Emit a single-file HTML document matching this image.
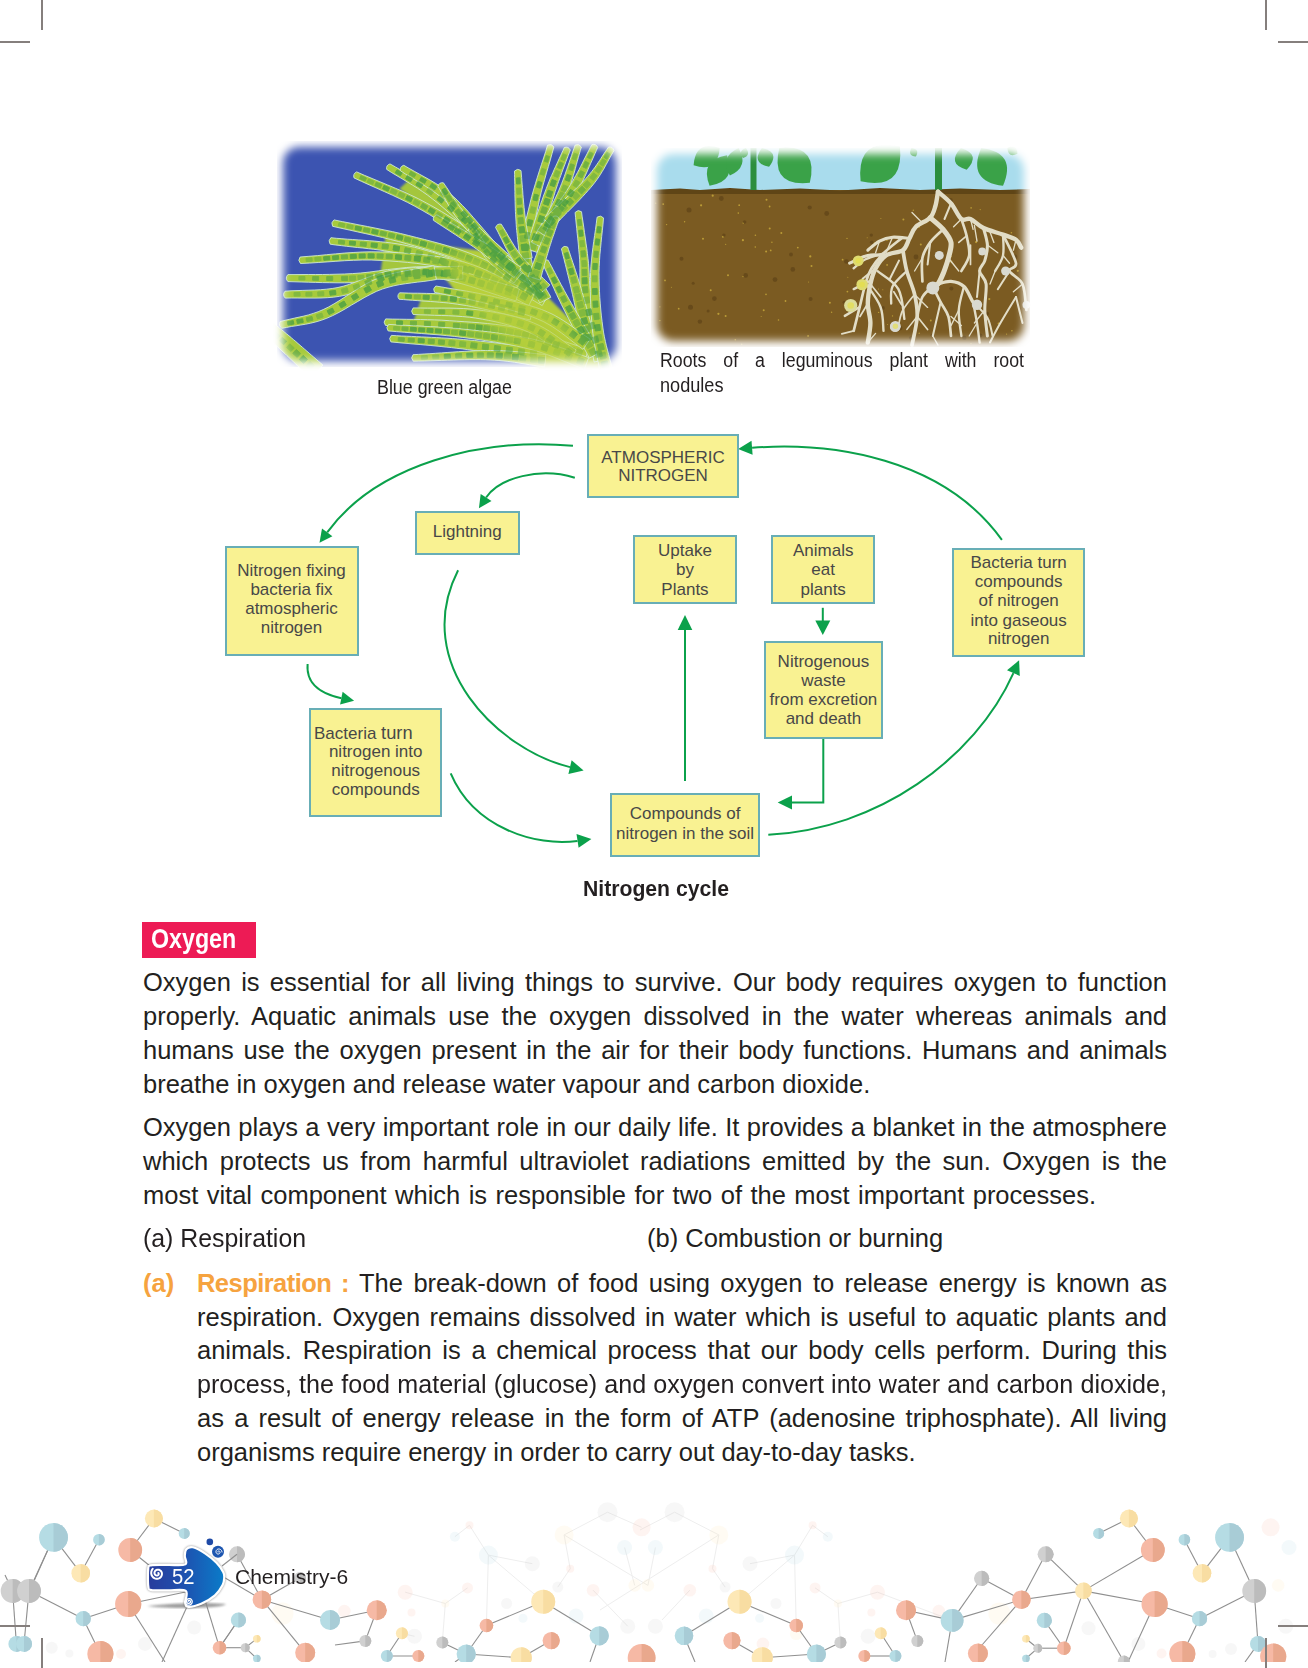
<!DOCTYPE html><html><head><meta charset="utf-8"><title>Chemistry-6 page 52</title><style>
*{margin:0;padding:0;box-sizing:border-box}
html,body{width:1308px;height:1668px;background:#fff;overflow:hidden}
body{position:relative;font-family:"Liberation Sans",sans-serif;color:#231f20}
.t{position:absolute;white-space:normal}
.crop{position:absolute;background:#857f7d;z-index:10}
.box{position:absolute;background:#f9f292;border:2px solid #68aeb6}
.bt{position:absolute;left:-2px;width:calc(100% + 4px);text-align:center;font-size:17px;line-height:19px;color:#484848;white-space:pre}
svg{position:absolute;left:0;top:0}
</style></head><body>
<div class="crop" style="left:41px;top:0px;width:2px;height:30px"></div>
<div class="crop" style="left:0px;top:41px;width:30px;height:2px"></div>
<div class="crop" style="left:1265px;top:0px;width:2px;height:30px"></div>
<div class="crop" style="left:1278px;top:41px;width:30px;height:2px"></div>
<div class="crop" style="left:0px;top:1625px;width:30px;height:2px"></div>
<div class="crop" style="left:41px;top:1638px;width:2px;height:30px"></div>
<div class="crop" style="left:1278px;top:1625px;width:30px;height:2px"></div>
<div class="crop" style="left:1265px;top:1638px;width:2px;height:30px"></div>
<svg width="1308" height="1668" viewBox="0 0 1308 1668">
<defs>
<filter id="mblur" x="-20%" y="-20%" width="140%" height="140%"><feGaussianBlur stdDeviation="4"/></filter>
<mask id="ca" maskUnits="userSpaceOnUse" x="260" y="125" width="380" height="260"><rect x="283" y="147" width="333" height="214" rx="16" fill="#fff" filter="url(#mblur)"/></mask>
<mask id="cr" maskUnits="userSpaceOnUse" x="635" y="130" width="410" height="235"><rect x="657" y="154" width="367" height="187" rx="16" fill="#fff" filter="url(#mblur)"/></mask>
<filter id="blur8" x="-10%" y="-10%" width="120%" height="120%"><feGaussianBlur stdDeviation="5"/></filter>
<filter id="blur2"><feGaussianBlur stdDeviation="1"/></filter>
<linearGradient id="badge" x1="0" y1="0" x2="1" y2="0"><stop offset="0" stop-color="#283c9c"/><stop offset="0.45" stop-color="#1f4fae"/><stop offset="1" stop-color="#0a7cc9"/></linearGradient>
</defs>
<g mask="url(#ca)"><rect x="277" y="141" width="345" height="226" fill="#3c54b1"/>
<path d="M435.2,245.1 L479.2,250.6 L517.7,272.6 L545.3,294.6 L578.3,327.7 L600.3,355.2 L608.6,369.0 L539.7,369.0 L504.0,344.2 L462.7,300.2 L440.7,272.6Z" fill="#b3cd3a" filter="url(#blur2)"/>
<path d="M385.6,236.3 L407.6,241.0 L476.4,263.0 L517.7,289.1 L517.7,294.6 L435.2,272.6 L380.1,276.8Z" fill="#a4c63c" filter="url(#blur2)"/>
<path d="M399.4,188.7 L424.1,206.6 L490.2,250.6 L504.0,261.6 L495.7,250.6 L448.9,198.3 L413.1,176.3Z" fill="#a4c63c" filter="url(#blur2)"/>
<path d="M421.4,298.0 L462.7,300.2 L531.5,313.9 L572.8,344.2 L517.7,333.2 L448.9,324.9 L413.1,322.7Z" fill="#a4c63c" filter="url(#blur2)"/>
<path d="M354.0,177.9 L361.6,181.4 L369.3,184.9 L377.0,188.3 L384.6,191.7 L392.2,195.1 L399.8,198.7 L407.3,202.3 L414.7,206.2 L422.1,210.3 L429.5,214.6 L436.9,219.2 L444.3,224.0 L451.7,228.9 L459.0,233.9 L466.3,239.1 L473.4,244.3 L480.3,249.5 L487.0,254.7 L493.4,260.0 L499.6,265.4 L505.6,270.9 L511.6,276.4 L517.4,282.1 L523.2,287.7 L529.1,293.4 L535.0,299.1 L541.0,304.8 L549.5,295.5 L543.4,290.1 L537.4,284.6 L531.4,279.1 L525.4,273.6 L519.3,268.1 L513.1,262.6 L506.8,257.1 L500.2,251.7 L493.4,246.5 L486.4,241.3 L479.3,236.1 L471.9,231.0 L464.5,226.0 L456.9,221.1 L449.2,216.3 L441.6,211.6 L433.9,207.1 L426.2,202.9 L418.5,198.8 L410.8,195.1 L403.0,191.5 L395.3,188.2 L387.5,184.9 L379.8,181.7 L372.1,178.5 L364.4,175.3 L356.7,171.9 Q352.7,173.7 354.0,177.9Z" fill="#a7ca3c" stroke="#cde8d4" stroke-width="0.9"/>
<path d="M386.7,169.4 L391.8,172.7 L397.0,175.8 L402.1,178.8 L407.2,181.9 L412.2,184.9 L417.3,188.1 L422.4,191.5 L427.5,195.1 L432.6,199.0 L437.8,203.1 L442.9,207.4 L448.1,212.0 L453.3,216.7 L458.5,221.6 L463.9,226.7 L469.4,232.1 L475.2,237.6 L481.1,243.4 L487.2,249.4 L493.6,255.8 L500.1,262.5 L506.8,269.4 L513.6,276.4 L520.4,283.5 L527.3,290.6 L534.1,297.7 L540.8,304.6 L549.7,295.7 L542.8,289.0 L535.9,282.1 L528.9,275.2 L521.9,268.3 L514.9,261.4 L508.0,254.6 L501.3,248.0 L494.7,241.8 L488.3,235.8 L482.2,230.2 L476.3,224.7 L470.6,219.5 L465.0,214.5 L459.5,209.7 L454.1,205.0 L448.6,200.6 L443.2,196.3 L437.7,192.2 L432.2,188.3 L426.8,184.7 L421.4,181.5 L416.1,178.4 L410.9,175.5 L405.6,172.6 L400.4,169.8 L395.3,166.9 L390.0,163.9 Q385.9,165.1 386.7,169.4Z" fill="#a7ca3c" stroke="#cde8d4" stroke-width="0.9"/>
<path d="M400.4,170.8 L405.6,174.1 L410.8,177.3 L415.9,180.4 L421.1,183.5 L426.1,186.6 L431.2,189.9 L436.2,193.4 L441.2,197.2 L446.1,201.5 L451.0,206.3 L456.0,211.6 L461.0,217.2 L466.0,223.2 L471.0,229.4 L476.1,235.7 L481.3,242.0 L486.6,248.2 L491.9,254.2 L497.2,260.0 L502.6,265.6 L508.1,271.3 L513.5,276.9 L519.0,282.4 L524.5,288.0 L530.0,293.5 L535.4,299.0 L540.8,304.6 L549.7,295.7 L544.1,290.3 L538.4,284.9 L532.8,279.5 L527.2,274.1 L521.5,268.8 L516.0,263.4 L510.4,258.0 L504.9,252.5 L499.5,247.0 L494.2,241.4 L488.9,235.5 L483.7,229.4 L478.4,223.3 L473.1,217.2 L467.9,211.2 L462.5,205.5 L457.2,200.1 L451.7,195.1 L446.3,190.7 L440.9,186.8 L435.5,183.3 L430.1,180.1 L424.8,177.1 L419.5,174.2 L414.3,171.3 L409.1,168.4 L403.8,165.3 Q399.6,166.5 400.4,170.8Z" fill="#a7ca3c" stroke="#cde8d4" stroke-width="0.9"/>
<path d="M437.9,186.3 L439.4,188.7 L440.7,191.0 L442.0,193.3 L443.2,195.6 L444.5,197.9 L445.7,200.3 L447.1,202.6 L448.4,205.0 L449.9,207.5 L451.4,210.0 L453.1,212.5 L454.9,215.2 L456.9,217.9 L459.1,220.7 L461.4,223.5 L463.9,226.4 L466.6,229.4 L469.4,232.4 L472.3,235.5 L475.3,238.5 L478.3,241.7 L481.4,244.8 L484.5,247.9 L487.6,251.0 L490.7,254.1 L493.7,257.2 L496.7,260.3 L499.6,263.3 L508.4,254.4 L505.3,251.5 L502.1,248.6 L498.9,245.6 L495.6,242.6 L492.4,239.7 L489.1,236.7 L485.9,233.8 L482.8,230.8 L479.7,228.0 L476.8,225.1 L473.9,222.4 L471.2,219.7 L468.7,217.0 L466.3,214.5 L464.1,212.0 L462.1,209.7 L460.3,207.4 L458.5,205.1 L456.9,202.9 L455.4,200.6 L453.9,198.5 L452.4,196.3 L451.0,194.1 L449.5,191.9 L448.1,189.6 L446.6,187.4 L445.0,185.1 L443.4,182.8 Q439.1,182.1 437.9,186.3Z" fill="#a7ca3c" stroke="#cde8d4" stroke-width="0.9"/>
<path d="M332.6,226.3 L340.9,228.2 L349.2,230.0 L357.6,231.9 L365.9,233.7 L374.2,235.6 L382.4,237.5 L390.6,239.5 L398.6,241.5 L406.5,243.7 L414.4,245.9 L422.1,248.1 L429.7,250.3 L437.3,252.6 L444.7,255.0 L452.1,257.5 L459.5,260.2 L466.9,263.2 L474.3,266.4 L481.7,270.0 L489.2,273.9 L496.7,278.1 L504.2,282.5 L511.7,287.1 L519.3,291.8 L526.9,296.5 L534.5,301.1 L542.2,305.6 L548.4,294.7 L540.7,290.5 L533.0,286.1 L525.4,281.6 L517.6,277.1 L509.9,272.7 L502.1,268.4 L494.3,264.2 L486.4,260.4 L478.6,256.8 L470.7,253.6 L463.0,250.8 L455.3,248.2 L447.6,245.8 L439.9,243.6 L432.2,241.5 L424.5,239.5 L416.6,237.5 L408.7,235.5 L400.6,233.5 L392.4,231.6 L384.1,229.9 L375.8,228.2 L367.4,226.5 L359.0,224.9 L350.6,223.2 L342.3,221.6 L334.0,219.9 Q330.5,222.5 332.6,226.3Z" fill="#a7ca3c" stroke="#cde8d4" stroke-width="0.9"/>
<path d="M330.2,244.2 L335.7,245.0 L341.2,245.6 L346.6,246.3 L352.1,246.9 L357.5,247.5 L362.9,248.0 L368.4,248.7 L373.8,249.3 L379.2,250.0 L384.6,250.8 L390.1,251.7 L395.5,252.8 L401.0,253.9 L406.6,255.2 L412.1,256.7 L417.8,258.4 L423.5,260.2 L429.2,262.1 L435.0,264.1 L440.9,266.2 L446.7,268.4 L452.6,270.7 L458.5,272.9 L464.5,275.2 L470.4,277.5 L476.3,279.7 L482.3,281.9 L488.2,284.1 L492.2,272.2 L486.3,270.3 L480.4,268.4 L474.4,266.3 L468.4,264.3 L462.4,262.2 L456.4,260.1 L450.4,258.1 L444.4,256.1 L438.4,254.1 L432.4,252.2 L426.4,250.5 L420.5,248.8 L414.6,247.3 L408.7,246.0 L402.9,244.8 L397.1,243.8 L391.4,243.0 L385.8,242.3 L380.2,241.7 L374.6,241.1 L369.1,240.7 L363.7,240.3 L358.2,239.9 L352.7,239.5 L347.3,239.2 L341.9,238.7 L336.4,238.3 L330.9,237.7 Q327.7,240.6 330.2,244.2Z" fill="#a7ca3c" stroke="#cde8d4" stroke-width="0.9"/>
<path d="M300.5,263.5 L309.4,263.1 L318.2,262.5 L327.1,261.9 L335.9,261.3 L344.7,260.7 L353.5,260.3 L362.3,260.0 L371.1,260.0 L380.0,260.4 L389.0,260.9 L398.2,261.6 L407.5,262.4 L416.9,263.4 L426.1,264.7 L435.3,266.1 L444.2,267.8 L452.9,269.8 L461.2,272.2 L469.1,274.9 L476.8,278.0 L484.2,281.5 L491.6,285.4 L498.9,289.4 L506.2,293.5 L513.6,297.7 L521.1,301.8 L528.7,305.7 L534.3,294.6 L526.7,290.9 L519.3,287.1 L511.9,283.1 L504.4,279.2 L496.8,275.2 L489.0,271.5 L481.0,267.9 L472.8,264.8 L464.2,262.1 L455.3,259.9 L446.2,258.0 L436.9,256.4 L427.4,255.1 L417.9,254.1 L408.3,253.3 L398.8,252.7 L389.5,252.2 L380.3,251.9 L371.1,251.8 L362.1,252.0 L353.1,252.5 L344.2,253.1 L335.3,253.9 L326.5,254.7 L317.7,255.6 L308.9,256.3 L300.1,257.0 Q297.4,260.4 300.5,263.5Z" fill="#a7ca3c" stroke="#cde8d4" stroke-width="0.9"/>
<path d="M287.9,281.6 L295.0,281.8 L301.9,282.0 L308.7,282.2 L315.6,282.4 L322.6,282.6 L329.7,282.7 L337.0,282.8 L344.7,282.8 L352.8,282.6 L361.3,282.2 L370.2,281.4 L379.4,280.5 L388.6,279.5 L398.0,278.5 L407.3,277.8 L416.6,277.4 L425.7,277.4 L434.6,278.1 L443.4,279.4 L452.3,281.3 L461.2,283.6 L470.2,286.2 L479.2,289.1 L488.3,292.2 L497.5,295.2 L506.7,298.2 L516.0,300.9 L519.5,288.4 L510.4,285.9 L501.3,283.2 L492.1,280.4 L482.8,277.6 L473.5,274.8 L464.2,272.3 L454.7,270.1 L445.2,268.3 L435.7,267.2 L426.0,266.7 L416.3,266.8 L406.6,267.5 L397.0,268.5 L387.5,269.6 L378.2,270.9 L369.2,272.1 L360.6,273.0 L352.4,273.6 L344.5,274.0 L337.0,274.2 L329.7,274.4 L322.6,274.5 L315.7,274.5 L308.8,274.5 L302.0,274.5 L295.0,274.6 L287.9,274.6 Q284.7,278.1 287.9,281.6Z" fill="#a7ca3c" stroke="#cde8d4" stroke-width="0.9"/>
<path d="M285.3,298.1 L291.2,298.0 L297.1,298.0 L303.0,298.1 L309.0,298.1 L315.0,298.1 L321.0,298.0 L327.2,297.7 L333.3,297.2 L339.6,296.3 L345.9,295.1 L352.1,293.4 L358.2,291.5 L364.1,289.4 L370.1,287.3 L376.1,285.3 L382.2,283.5 L388.3,281.9 L394.7,280.8 L401.5,280.0 L408.6,279.6 L416.0,279.3 L423.6,279.2 L431.4,279.2 L439.3,279.2 L447.2,279.3 L455.1,279.2 L462.9,279.1 L462.5,266.1 L454.8,266.5 L447.1,266.7 L439.2,266.9 L431.3,267.0 L423.4,267.3 L415.5,267.6 L407.8,268.1 L400.3,268.9 L393.0,269.9 L385.9,271.4 L379.2,273.3 L372.8,275.5 L366.7,277.8 L360.7,280.1 L354.9,282.3 L349.3,284.4 L343.7,286.1 L338.0,287.5 L332.2,288.5 L326.4,289.2 L320.6,289.7 L314.7,290.0 L308.9,290.2 L302.9,290.4 L297.0,290.6 L291.0,290.8 L285.0,291.2 Q282.0,294.8 285.3,298.1Z" fill="#a7ca3c" stroke="#cde8d4" stroke-width="0.9"/>
<path d="M281.8,328.3 L286.6,327.4 L291.3,326.5 L296.0,325.8 L300.7,325.0 L305.6,324.2 L310.6,323.2 L315.8,321.9 L321.2,320.3 L326.9,318.2 L332.8,315.6 L339.0,312.4 L345.2,308.9 L351.5,305.1 L357.8,301.4 L364.1,297.7 L370.3,294.4 L376.3,291.4 L382.2,289.1 L388.0,287.3 L393.8,285.8 L399.7,284.6 L405.6,283.7 L411.6,282.9 L417.7,282.1 L423.9,281.4 L430.2,280.5 L436.4,279.5 L433.9,265.7 L427.9,267.0 L421.9,268.0 L415.9,269.0 L409.7,270.1 L403.5,271.2 L397.2,272.4 L390.9,274.0 L384.5,275.9 L378.0,278.2 L371.5,281.1 L365.0,284.5 L358.6,288.3 L352.3,292.3 L346.0,296.3 L340.0,300.2 L334.1,303.8 L328.5,307.0 L323.2,309.6 L318.2,311.7 L313.3,313.4 L308.5,314.9 L303.8,316.1 L299.2,317.1 L294.6,318.1 L289.9,319.2 L285.1,320.3 L280.2,321.5 Q277.9,325.6 281.8,328.3Z" fill="#a7ca3c" stroke="#cde8d4" stroke-width="0.9"/>
<path d="M385.5,325.4 L392.5,325.8 L399.5,326.1 L406.4,326.5 L413.3,326.8 L420.3,327.1 L427.2,327.5 L434.3,328.0 L441.4,328.5 L448.6,329.2 L456.0,329.9 L463.5,330.6 L471.0,331.3 L478.7,332.1 L486.3,333.0 L493.9,334.1 L501.6,335.3 L509.1,336.7 L516.6,338.3 L524.0,340.2 L531.5,342.4 L539.0,344.8 L546.5,347.4 L554.0,350.1 L561.6,352.9 L569.3,355.7 L576.9,358.5 L584.6,361.1 L588.5,349.3 L580.9,346.9 L573.2,344.4 L565.6,341.8 L557.9,339.2 L550.1,336.6 L542.4,334.2 L534.6,331.9 L526.7,329.8 L518.9,328.1 L511.0,326.6 L503.1,325.4 L495.2,324.3 L487.4,323.5 L479.6,322.8 L471.8,322.2 L464.2,321.7 L456.7,321.2 L449.2,320.7 L441.9,320.2 L434.7,319.9 L427.6,319.7 L420.5,319.5 L413.6,319.4 L406.6,319.3 L399.7,319.2 L392.7,319.1 L385.7,318.9 Q382.7,322.1 385.5,325.4Z" fill="#a7ca3c" stroke="#cde8d4" stroke-width="0.9"/>
<path d="M399.2,299.3 L403.7,299.6 L408.2,300.0 L412.7,300.3 L417.1,300.6 L421.6,300.9 L426.0,301.2 L430.5,301.5 L434.9,301.8 L439.4,302.2 L443.9,302.6 L448.4,303.0 L452.9,303.6 L457.4,304.2 L462.0,304.9 L466.7,305.6 L471.4,306.5 L476.2,307.5 L481.0,308.5 L485.8,309.5 L490.7,310.7 L495.6,311.8 L500.5,313.0 L505.5,314.2 L510.4,315.4 L515.4,316.6 L520.4,317.8 L525.3,318.9 L530.2,320.0 L532.7,307.8 L527.8,306.9 L522.9,306.0 L517.9,305.0 L512.9,304.0 L507.9,303.0 L502.9,302.0 L497.9,301.1 L492.9,300.1 L487.9,299.2 L482.9,298.3 L478.0,297.5 L473.0,296.7 L468.2,296.0 L463.3,295.4 L458.5,294.9 L453.8,294.5 L449.1,294.2 L444.5,294.0 L439.9,293.8 L435.4,293.6 L430.9,293.5 L426.4,293.4 L421.9,293.3 L417.4,293.2 L413.0,293.2 L408.5,293.1 L404.1,292.9 L399.6,292.8 Q396.4,295.8 399.2,299.3Z" fill="#a7ca3c" stroke="#cde8d4" stroke-width="0.9"/>
<path d="M390.9,341.9 L396.0,342.4 L401.0,342.9 L406.0,343.3 L411.0,343.8 L416.0,344.2 L420.9,344.6 L425.9,345.1 L430.9,345.5 L436.0,346.0 L441.1,346.5 L446.2,347.1 L451.5,347.6 L456.8,348.3 L462.2,348.9 L467.7,349.6 L473.3,350.4 L479.0,351.2 L484.8,352.1 L490.7,353.0 L496.6,353.9 L502.5,354.8 L508.5,355.7 L514.5,356.7 L520.5,357.7 L526.5,358.6 L532.5,359.6 L538.5,360.5 L544.4,361.4 L546.1,349.0 L540.2,348.3 L534.2,347.6 L528.2,346.9 L522.2,346.1 L516.1,345.4 L510.1,344.6 L504.0,343.9 L498.0,343.2 L492.1,342.5 L486.1,341.8 L480.3,341.2 L474.5,340.5 L468.8,340.0 L463.2,339.5 L457.7,339.0 L452.3,338.6 L447.0,338.2 L441.8,337.9 L436.6,337.6 L431.5,337.4 L426.5,337.1 L421.5,336.9 L416.5,336.7 L411.5,336.4 L406.5,336.2 L401.5,336.0 L396.4,335.7 L391.4,335.4 Q388.2,338.5 390.9,341.9Z" fill="#a7ca3c" stroke="#cde8d4" stroke-width="0.9"/>
<path d="M413.3,361.2 L418.8,361.1 L424.5,361.0 L430.2,360.8 L436.0,360.6 L441.8,360.4 L447.5,360.2 L453.2,360.1 L458.9,359.9 L464.5,359.8 L469.9,359.7 L475.2,359.7 L480.4,359.7 L485.4,359.8 L490.1,360.0 L494.6,360.2 L498.9,360.5 L503.1,360.9 L507.1,361.3 L510.9,361.8 L514.7,362.3 L518.4,362.9 L522.1,363.5 L525.7,364.1 L529.4,364.7 L533.1,365.3 L536.9,365.8 L540.7,366.4 L544.6,366.9 L545.9,354.5 L542.1,354.2 L538.3,353.9 L534.6,353.5 L530.9,353.1 L527.3,352.7 L523.5,352.4 L519.8,352.0 L516.0,351.6 L512.0,351.3 L508.0,351.0 L503.8,350.8 L499.5,350.6 L495.0,350.5 L490.3,350.5 L485.4,350.5 L480.3,350.6 L475.1,350.8 L469.7,351.1 L464.1,351.4 L458.5,351.7 L452.9,352.1 L447.1,352.5 L441.4,352.9 L435.6,353.3 L429.9,353.7 L424.2,354.0 L418.6,354.4 L413.0,354.7 Q410.2,358.1 413.3,361.2Z" fill="#a7ca3c" stroke="#cde8d4" stroke-width="0.9"/>
<path d="M547.6,145.1 L545.7,151.5 L543.6,157.9 L541.5,164.3 L539.4,170.8 L537.4,177.2 L535.4,183.7 L533.5,190.1 L531.7,196.5 L530.1,202.9 L528.6,209.1 L527.0,215.5 L525.4,221.9 L523.9,228.3 L522.6,234.7 L521.5,241.0 L520.8,247.3 L520.5,253.4 L520.8,259.5 L521.7,265.3 L523.3,270.8 L525.3,276.0 L527.7,280.9 L530.2,285.5 L532.8,290.0 L535.3,294.3 L537.6,298.6 L539.7,303.0 L550.8,297.3 L548.4,292.7 L545.6,288.2 L542.9,283.8 L540.2,279.6 L537.7,275.5 L535.4,271.3 L533.6,267.1 L532.1,262.8 L531.2,258.2 L530.8,253.3 L530.8,247.9 L531.3,242.2 L532.1,236.3 L533.1,230.2 L534.3,223.9 L535.7,217.5 L537.1,211.1 L538.4,204.8 L539.7,198.5 L541.2,192.2 L542.9,185.8 L544.7,179.4 L546.5,172.9 L548.4,166.4 L550.3,159.9 L552.1,153.4 L553.9,146.9 Q551.6,143.2 547.6,145.1Z" fill="#a7ca3c" stroke="#cde8d4" stroke-width="0.9"/>
<path d="M564.3,147.5 L563.0,150.4 L561.7,153.2 L560.5,155.9 L559.2,158.6 L558.0,161.2 L556.8,163.9 L555.5,166.7 L554.2,169.5 L553.0,172.3 L551.7,175.3 L550.3,178.3 L549.0,181.6 L547.7,184.9 L546.3,188.5 L544.9,192.2 L543.4,196.1 L542.0,200.2 L540.5,204.4 L539.0,208.7 L537.5,213.0 L536.0,217.5 L534.5,222.0 L533.0,226.5 L531.5,231.0 L530.0,235.5 L528.5,240.0 L527.0,244.4 L525.5,248.7 L537.5,252.5 L538.7,248.1 L540.0,243.6 L541.3,239.0 L542.6,234.5 L543.9,229.9 L545.2,225.3 L546.5,220.8 L547.8,216.3 L549.1,211.9 L550.4,207.5 L551.6,203.3 L552.9,199.3 L554.1,195.4 L555.2,191.6 L556.4,188.1 L557.5,184.7 L558.6,181.5 L559.7,178.4 L560.8,175.5 L561.8,172.6 L562.9,169.7 L563.9,167.0 L565.0,164.2 L566.0,161.4 L567.1,158.6 L568.1,155.8 L569.2,152.9 L570.3,150.0 Q568.4,146.1 564.3,147.5Z" fill="#a7ca3c" stroke="#cde8d4" stroke-width="0.9"/>
<path d="M575.2,145.0 L573.9,148.5 L572.7,152.0 L571.5,155.6 L570.3,159.1 L569.1,162.6 L567.9,166.1 L566.7,169.6 L565.5,173.1 L564.3,176.5 L563.0,180.0 L561.7,183.4 L560.3,186.9 L558.9,190.3 L557.4,193.7 L555.8,197.1 L554.2,200.6 L552.4,204.0 L550.6,207.4 L548.8,210.9 L546.9,214.3 L545.0,217.8 L543.1,221.3 L541.1,224.7 L539.2,228.2 L537.2,231.7 L535.2,235.2 L533.3,238.8 L531.4,242.3 L542.6,247.9 L544.3,244.4 L546.0,240.8 L547.7,237.2 L549.5,233.7 L551.2,230.1 L553.0,226.5 L554.8,222.9 L556.5,219.3 L558.3,215.6 L559.9,212.0 L561.6,208.4 L563.2,204.7 L564.7,201.0 L566.2,197.4 L567.5,193.7 L568.8,190.1 L570.0,186.4 L571.2,182.8 L572.3,179.2 L573.3,175.6 L574.4,172.0 L575.4,168.4 L576.3,164.8 L577.3,161.2 L578.3,157.7 L579.3,154.1 L580.3,150.6 L581.4,147.0 Q579.2,143.2 575.2,145.0Z" fill="#a7ca3c" stroke="#cde8d4" stroke-width="0.9"/>
<path d="M591.9,144.6 L590.2,147.7 L588.6,150.8 L587.0,153.9 L585.4,157.0 L583.8,160.1 L582.3,163.2 L580.7,166.3 L579.1,169.4 L577.5,172.4 L575.8,175.5 L574.1,178.5 L572.4,181.6 L570.6,184.6 L568.7,187.6 L566.7,190.6 L564.7,193.7 L562.6,196.7 L560.4,199.7 L558.2,202.8 L556.0,205.8 L553.7,208.9 L551.4,212.0 L549.0,215.0 L546.7,218.1 L544.3,221.2 L542.0,224.3 L539.6,227.4 L537.4,230.5 L547.6,237.7 L549.7,234.5 L551.8,231.3 L554.0,228.1 L556.1,224.9 L558.3,221.7 L560.5,218.5 L562.6,215.3 L564.8,212.0 L566.9,208.8 L569.0,205.5 L571.1,202.3 L573.1,199.0 L575.0,195.8 L576.9,192.5 L578.6,189.2 L580.3,185.9 L582.0,182.7 L583.5,179.4 L585.0,176.2 L586.5,173.0 L587.9,169.8 L589.3,166.5 L590.7,163.3 L592.1,160.2 L593.5,157.0 L594.9,153.8 L596.3,150.6 L597.7,147.4 Q596.1,143.4 591.9,144.6Z" fill="#a7ca3c" stroke="#cde8d4" stroke-width="0.9"/>
<path d="M608.6,147.0 L607.0,149.3 L605.4,151.6 L603.9,153.8 L602.4,156.1 L601.0,158.3 L599.6,160.5 L598.1,162.7 L596.6,164.9 L595.1,167.1 L593.4,169.3 L591.7,171.6 L589.8,173.9 L587.8,176.3 L585.7,178.7 L583.3,181.3 L580.8,183.9 L578.1,186.6 L575.2,189.4 L572.2,192.2 L569.2,195.1 L566.0,198.0 L562.8,200.9 L559.6,203.9 L556.3,206.8 L553.1,209.8 L549.9,212.8 L546.7,215.7 L543.6,218.6 L552.4,227.5 L555.3,224.5 L558.3,221.4 L561.3,218.4 L564.4,215.2 L567.5,212.1 L570.6,209.0 L573.7,205.9 L576.7,202.8 L579.7,199.7 L582.6,196.6 L585.4,193.6 L588.0,190.6 L590.6,187.7 L592.9,184.9 L595.1,182.1 L597.1,179.4 L598.9,176.8 L600.6,174.2 L602.1,171.7 L603.6,169.3 L604.9,166.9 L606.2,164.5 L607.5,162.2 L608.7,159.8 L610.0,157.5 L611.3,155.2 L612.6,152.9 L614.0,150.5 Q612.9,146.3 608.6,147.0Z" fill="#a7ca3c" stroke="#cde8d4" stroke-width="0.9"/>
<path d="M514.5,171.0 L514.6,174.3 L514.6,177.7 L514.7,181.1 L514.8,184.5 L514.8,187.9 L514.9,191.3 L514.9,194.7 L515.0,198.1 L515.1,201.5 L515.2,204.9 L515.3,208.2 L515.4,211.5 L515.6,214.8 L515.8,218.0 L516.0,221.2 L516.2,224.3 L516.4,227.4 L516.7,230.4 L517.0,233.4 L517.3,236.4 L517.6,239.3 L517.9,242.3 L518.3,245.2 L518.6,248.1 L518.9,251.0 L519.2,253.9 L519.5,256.8 L519.8,259.7 L532.2,258.0 L531.7,255.1 L531.2,252.2 L530.6,249.3 L530.1,246.4 L529.6,243.5 L529.0,240.6 L528.5,237.8 L528.0,234.9 L527.5,232.0 L527.0,229.1 L526.5,226.2 L526.1,223.2 L525.6,220.2 L525.2,217.1 L524.8,214.0 L524.5,210.8 L524.1,207.6 L523.8,204.3 L523.5,201.0 L523.2,197.7 L522.9,194.3 L522.7,190.9 L522.4,187.5 L522.1,184.1 L521.8,180.7 L521.6,177.3 L521.3,174.0 L521.0,170.6 Q517.6,167.9 514.5,171.0Z" fill="#a7ca3c" stroke="#cde8d4" stroke-width="0.9"/>
<path d="M575.1,212.5 L575.6,217.7 L576.1,223.0 L576.7,228.3 L577.2,233.6 L577.8,238.9 L578.3,244.1 L578.7,249.3 L579.2,254.3 L579.6,259.2 L579.8,263.9 L579.9,268.2 L579.9,272.4 L579.9,276.7 L579.9,281.0 L580.0,285.5 L580.2,290.2 L580.7,295.4 L581.4,301.0 L582.3,307.0 L583.5,313.4 L584.9,320.1 L586.4,327.1 L587.9,334.1 L589.6,341.2 L591.2,348.3 L592.7,355.3 L594.2,362.1 L606.4,359.3 L604.7,352.5 L602.9,345.5 L601.1,338.4 L599.2,331.4 L597.4,324.4 L595.8,317.7 L594.2,311.2 L592.9,305.0 L591.7,299.3 L590.9,294.1 L590.3,289.3 L589.8,284.9 L589.5,280.6 L589.3,276.4 L589.1,272.2 L588.8,267.9 L588.5,263.3 L588.0,258.5 L587.4,253.5 L586.8,248.4 L586.0,243.2 L585.3,238.0 L584.5,232.7 L583.8,227.4 L583.0,222.1 L582.2,216.9 L581.5,211.7 Q577.9,209.2 575.1,212.5Z" fill="#a7ca3c" stroke="#cde8d4" stroke-width="0.9"/>
<path d="M561.4,248.8 L562.1,251.5 L562.7,254.2 L563.4,256.8 L564.1,259.4 L564.7,262.0 L565.4,264.6 L566.0,267.2 L566.7,269.9 L567.3,272.6 L568.0,275.4 L568.7,278.2 L569.4,281.2 L570.2,284.3 L570.9,287.6 L571.7,291.0 L572.5,294.6 L573.4,298.3 L574.2,302.2 L575.1,306.1 L576.0,310.1 L576.9,314.2 L577.8,318.3 L578.7,322.5 L579.6,326.6 L580.5,330.8 L581.4,334.9 L582.3,339.0 L583.2,343.0 L595.4,339.9 L594.3,336.0 L593.2,332.0 L592.1,327.9 L590.9,323.8 L589.8,319.7 L588.7,315.6 L587.6,311.6 L586.5,307.5 L585.4,303.6 L584.3,299.7 L583.2,295.8 L582.2,292.2 L581.1,288.6 L580.1,285.2 L579.1,281.9 L578.2,278.8 L577.3,275.9 L576.3,273.0 L575.4,270.2 L574.6,267.6 L573.7,265.0 L572.8,262.4 L572.0,259.9 L571.1,257.3 L570.3,254.8 L569.4,252.2 L568.5,249.6 L567.6,247.0 Q563.7,245.0 561.4,248.8Z" fill="#a7ca3c" stroke="#cde8d4" stroke-width="0.9"/>
<path d="M542.3,263.1 L543.8,266.2 L545.2,269.4 L546.7,272.5 L548.1,275.7 L549.5,278.8 L550.9,281.9 L552.3,285.1 L553.8,288.2 L555.2,291.4 L556.7,294.6 L558.2,297.9 L559.8,301.2 L561.4,304.5 L563.1,307.9 L564.8,311.3 L566.6,314.8 L568.4,318.3 L570.2,321.9 L572.1,325.5 L574.0,329.1 L575.9,332.8 L577.8,336.4 L579.8,340.1 L581.7,343.7 L583.6,347.4 L585.6,351.0 L587.5,354.6 L589.3,358.2 L600.3,352.2 L598.2,348.7 L596.1,345.1 L594.0,341.6 L591.8,338.0 L589.7,334.5 L587.6,330.9 L585.5,327.4 L583.4,323.9 L581.3,320.4 L579.3,316.9 L577.3,313.5 L575.3,310.1 L573.4,306.7 L571.5,303.4 L569.6,300.2 L567.9,297.0 L566.1,293.8 L564.4,290.7 L562.8,287.6 L561.1,284.6 L559.5,281.5 L557.9,278.5 L556.3,275.5 L554.7,272.4 L553.1,269.4 L551.5,266.3 L549.8,263.3 L548.2,260.2 Q544.0,259.0 542.3,263.1Z" fill="#a7ca3c" stroke="#cde8d4" stroke-width="0.9"/>
<path d="M495.6,227.5 L496.9,229.9 L498.1,232.2 L499.3,234.7 L500.5,237.1 L501.7,239.5 L502.9,242.0 L504.1,244.4 L505.3,246.9 L506.6,249.4 L507.9,251.8 L509.3,254.3 L510.8,256.8 L512.3,259.2 L513.9,261.7 L515.6,264.1 L517.4,266.5 L519.2,268.8 L521.1,271.2 L523.1,273.5 L525.0,275.7 L527.0,278.0 L529.0,280.2 L531.0,282.4 L533.0,284.6 L534.9,286.8 L536.9,289.0 L538.8,291.2 L540.7,293.4 L549.9,284.9 L547.8,282.8 L545.6,280.7 L543.5,278.6 L541.3,276.5 L539.2,274.5 L537.1,272.4 L535.0,270.4 L532.9,268.3 L530.8,266.3 L528.9,264.3 L526.9,262.2 L525.1,260.2 L523.3,258.1 L521.5,256.0 L519.9,253.9 L518.3,251.8 L516.8,249.6 L515.3,247.4 L513.9,245.2 L512.5,242.9 L511.1,240.6 L509.7,238.3 L508.3,236.0 L507.0,233.6 L505.6,231.3 L504.2,228.9 L502.7,226.5 L501.3,224.2 Q497.0,223.3 495.6,227.5Z" fill="#a7ca3c" stroke="#cde8d4" stroke-width="0.9"/>
<path d="M259.9,330.2 L261.4,331.6 L262.9,333.0 L264.3,334.4 L265.8,335.7 L267.2,337.0 L268.6,338.4 L270.1,339.7 L271.5,341.1 L273.0,342.5 L274.5,343.9 L276.1,345.4 L277.7,346.9 L279.4,348.5 L281.2,350.2 L283.0,351.9 L285.0,353.7 L286.9,355.6 L289.0,357.6 L291.1,359.6 L293.2,361.6 L295.4,363.7 L297.6,365.8 L299.8,367.9 L302.0,370.0 L304.2,372.2 L306.4,374.3 L308.6,376.3 L310.7,378.4 L322.9,365.1 L320.6,363.1 L318.4,361.2 L316.1,359.2 L313.8,357.2 L311.5,355.2 L309.2,353.2 L306.9,351.2 L304.6,349.2 L302.3,347.2 L300.1,345.3 L298.0,343.5 L295.9,341.6 L293.8,339.9 L291.8,338.2 L290.0,336.6 L288.1,335.1 L286.4,333.7 L284.7,332.3 L283.1,330.9 L281.5,329.6 L279.9,328.4 L278.4,327.1 L276.8,325.9 L275.3,324.7 L273.8,323.5 L272.3,322.2 L270.7,321.0 L269.1,319.7 Q259.7,320.8 259.9,330.2Z" fill="#a7ca3c" stroke="#cde8d4" stroke-width="0.9"/>
<path d="M468.3,230.4 L469.5,232.4 L470.7,234.5 L471.9,236.5 L473.1,238.6 L474.3,240.7 L475.5,242.8 L476.7,244.9 L477.9,247.0 L479.2,249.1 L480.6,251.2 L482.0,253.3 L483.5,255.3 L485.1,257.4 L486.8,259.4 L488.5,261.3 L490.3,263.2 L492.2,265.0 L494.2,266.8 L496.1,268.5 L498.1,270.2 L500.2,271.9 L502.2,273.5 L504.2,275.1 L506.2,276.7 L508.2,278.3 L510.1,279.9 L512.0,281.4 L513.9,283.0 L521.6,273.2 L519.5,271.7 L517.4,270.2 L515.2,268.7 L513.1,267.3 L510.9,265.9 L508.8,264.5 L506.7,263.1 L504.7,261.7 L502.7,260.2 L500.8,258.8 L498.9,257.4 L497.1,255.9 L495.3,254.4 L493.7,252.9 L492.1,251.3 L490.5,249.6 L489.0,247.9 L487.6,246.1 L486.2,244.3 L484.8,242.4 L483.4,240.5 L482.0,238.6 L480.7,236.6 L479.3,234.6 L477.9,232.7 L476.5,230.7 L475.1,228.7 L473.6,226.7 Q469.3,226.2 468.3,230.4Z" fill="#a7ca3c" stroke="#cde8d4" stroke-width="0.9"/>
<path d="M434.5,292.3 L440.6,293.6 L446.8,294.9 L452.9,296.1 L458.9,297.4 L465.0,298.6 L471.1,299.9 L477.1,301.3 L483.2,302.7 L489.2,304.3 L495.3,305.9 L501.6,307.6 L507.9,309.3 L514.2,311.0 L520.4,312.9 L526.4,314.8 L532.3,316.9 L537.8,319.1 L543.1,321.4 L547.9,324.0 L552.5,326.7 L556.9,329.7 L561.3,332.8 L565.5,336.0 L569.7,339.3 L574.0,342.7 L578.5,346.1 L583.0,349.3 L590.1,339.1 L585.6,336.1 L581.2,333.0 L576.8,329.9 L572.4,326.7 L567.8,323.5 L563.1,320.4 L558.2,317.4 L553.0,314.5 L547.4,311.9 L541.6,309.5 L535.6,307.4 L529.4,305.5 L523.1,303.7 L516.7,302.0 L510.2,300.4 L503.8,298.9 L497.4,297.5 L491.2,296.0 L485.0,294.7 L478.8,293.4 L472.6,292.2 L466.5,291.1 L460.3,290.1 L454.2,289.1 L448.0,288.1 L441.9,287.0 L435.8,286.0 Q432.3,288.6 434.5,292.3Z" fill="#a7ca3c" stroke="#cde8d4" stroke-width="0.9"/>
<path d="M413.0,314.4 L420.1,314.8 L427.3,315.0 L434.5,315.3 L441.7,315.5 L448.8,315.7 L455.8,316.1 L462.7,316.6 L469.4,317.2 L475.9,318.1 L482.3,319.2 L488.7,320.4 L495.0,321.7 L501.2,323.1 L507.2,324.7 L513.1,326.4 L518.8,328.3 L524.2,330.3 L529.4,332.5 L534.2,334.9 L538.8,337.6 L543.2,340.5 L547.5,343.6 L551.7,346.9 L555.9,350.2 L560.3,353.6 L564.7,357.1 L569.2,360.3 L576.3,350.1 L571.8,347.1 L567.5,344.0 L563.1,340.8 L558.7,337.6 L554.1,334.3 L549.4,331.2 L544.4,328.2 L539.1,325.4 L533.6,322.9 L527.8,320.7 L521.9,318.7 L515.8,316.9 L509.6,315.4 L503.3,313.9 L496.8,312.7 L490.3,311.6 L483.7,310.6 L477.0,309.7 L470.2,309.0 L463.2,308.5 L456.1,308.3 L449.0,308.1 L441.8,308.1 L434.6,308.1 L427.4,308.1 L420.3,308.0 L413.2,307.9 Q410.2,311.1 413.0,314.4Z" fill="#a7ca3c" stroke="#cde8d4" stroke-width="0.9"/>
<path d="M388.1,330.9 L396.4,331.6 L404.8,332.3 L413.1,332.9 L421.5,333.5 L429.8,334.2 L438.0,334.8 L446.2,335.6 L454.3,336.4 L462.2,337.4 L470.1,338.4 L478.0,339.5 L485.9,340.7 L493.7,341.9 L501.4,343.2 L508.9,344.6 L516.3,346.0 L523.4,347.6 L530.2,349.3 L536.8,351.1 L543.0,353.1 L549.0,355.3 L554.9,357.5 L560.7,359.9 L566.6,362.2 L572.4,364.6 L578.4,367.0 L584.4,369.3 L588.7,357.6 L582.6,355.5 L576.7,353.4 L570.9,351.2 L564.9,349.0 L558.9,346.9 L552.7,344.7 L546.3,342.7 L539.7,340.8 L532.8,339.1 L525.6,337.6 L518.2,336.2 L510.6,334.9 L502.9,333.7 L495.1,332.6 L487.2,331.6 L479.2,330.7 L471.2,329.8 L463.2,329.0 L455.1,328.2 L446.9,327.6 L438.6,327.0 L430.3,326.6 L421.9,326.1 L413.6,325.7 L405.2,325.3 L396.9,324.9 L388.6,324.4 Q385.4,327.5 388.1,330.9Z" fill="#a7ca3c" stroke="#cde8d4" stroke-width="0.9"/>
<path d="M433.4,220.3 L436.5,222.4 L439.7,224.5 L442.8,226.5 L446.0,228.6 L449.1,230.6 L452.3,232.7 L455.4,234.7 L458.5,236.8 L461.6,238.8 L464.7,240.9 L467.7,242.9 L470.7,245.0 L473.7,247.0 L476.6,249.1 L479.4,251.1 L482.2,253.1 L484.9,255.2 L487.6,257.2 L490.3,259.2 L492.9,261.3 L495.6,263.3 L498.2,265.4 L500.8,267.4 L503.4,269.5 L506.1,271.5 L508.7,273.6 L511.4,275.6 L514.1,277.7 L521.4,267.5 L518.6,265.7 L515.8,263.8 L513.1,261.9 L510.3,260.1 L507.6,258.2 L504.8,256.3 L502.0,254.4 L499.3,252.5 L496.4,250.6 L493.6,248.7 L490.7,246.8 L487.8,244.9 L484.8,243.0 L481.8,241.1 L478.8,239.3 L475.6,237.4 L472.5,235.5 L469.3,233.6 L466.1,231.7 L462.9,229.8 L459.6,227.9 L456.4,226.1 L453.1,224.2 L449.8,222.3 L446.6,220.4 L443.3,218.6 L440.1,216.7 L436.9,214.8 Q432.7,216.0 433.4,220.3Z" fill="#a7ca3c" stroke="#cde8d4" stroke-width="0.9"/>
<path d="M597.1,217.2 L596.3,223.3 L595.5,229.4 L594.6,235.5 L593.7,241.6 L592.9,247.7 L592.1,253.9 L591.5,260.1 L590.9,266.3 L590.6,272.5 L590.4,278.8 L590.3,285.2 L590.3,291.6 L590.5,298.1 L590.7,304.4 L591.0,310.7 L591.4,316.8 L591.8,322.7 L592.3,328.3 L592.9,333.6 L593.6,338.7 L594.4,343.5 L595.3,348.2 L596.2,352.7 L597.1,357.1 L598.0,361.4 L598.9,365.8 L599.7,370.3 L611.9,367.7 L610.9,363.1 L609.7,358.7 L608.6,354.4 L607.5,350.1 L606.4,345.8 L605.4,341.4 L604.4,336.8 L603.5,332.1 L602.8,327.1 L602.1,321.7 L601.4,315.9 L600.8,310.0 L600.3,303.9 L599.8,297.6 L599.5,291.3 L599.2,285.1 L599.1,278.8 L599.0,272.7 L599.2,266.7 L599.5,260.7 L599.9,254.7 L600.5,248.6 L601.1,242.5 L601.7,236.4 L602.4,230.2 L603.0,224.1 L603.5,217.9 Q600.6,214.7 597.1,217.2Z" fill="#a7ca3c" stroke="#cde8d4" stroke-width="0.9"/>
<path d="M553.3,216.4 L552.4,218.3 L551.5,220.1 L550.6,222.0 L549.7,223.9 L548.8,225.7 L547.9,227.6 L547.1,229.5 L546.2,231.4 L545.3,233.3 L544.4,235.2 L543.5,237.2 L542.6,239.3 L541.7,241.3 L540.8,243.5 L539.9,245.7 L539.0,247.9 L538.1,250.2 L537.2,252.5 L536.3,254.8 L535.4,257.2 L534.5,259.6 L533.6,262.0 L532.7,264.3 L531.9,266.7 L531.0,269.1 L530.1,271.5 L529.2,273.8 L528.3,276.2 L540.2,280.1 L540.9,277.7 L541.6,275.2 L542.2,272.8 L542.9,270.3 L543.6,267.9 L544.3,265.4 L545.0,263.0 L545.7,260.6 L546.3,258.2 L547.0,255.8 L547.7,253.5 L548.4,251.2 L549.0,248.9 L549.7,246.7 L550.4,244.6 L551.1,242.5 L551.7,240.4 L552.4,238.4 L553.1,236.4 L553.8,234.5 L554.5,232.5 L555.1,230.6 L555.8,228.6 L556.5,226.7 L557.2,224.7 L557.9,222.8 L558.6,220.8 L559.3,218.8 Q557.4,214.9 553.3,216.4Z" fill="#a7ca3c" stroke="#cde8d4" stroke-width="0.9"/>
<path d="M372.7,184.5 367.2,182.1 368.6,178.9 374.1,181.3ZM395.7,194.6 390.2,192.2 391.8,188.7 397.3,191.1ZM403.3,198.1 397.9,195.6 399.5,192.1 405.0,194.6ZM418.3,205.7 413.0,203.0 414.9,199.3 420.2,202.1ZM440.6,218.9 435.5,215.8 437.8,211.9 442.9,215.1ZM455.5,228.6 450.5,225.3 453.1,221.4 458.1,224.7ZM462.9,233.7 457.9,230.3 460.6,226.3 465.6,229.7ZM470.1,238.8 465.2,235.3 468.1,231.3 473.0,234.8ZM491.0,254.5 486.2,250.8 489.4,246.7 494.2,250.4ZM497.4,259.8 492.8,256.0 496.2,251.9 500.8,255.7ZM503.7,265.3 499.1,261.4 502.7,257.2 507.2,261.1ZM521.6,282.0 517.2,277.9 521.2,273.7 525.6,277.8ZM533.4,293.3 529.0,289.2 533.1,284.8 537.5,288.9ZM539.3,298.9 534.9,294.8 539.1,290.3 543.5,294.4ZM431.1,195.1 426.2,191.6 428.6,188.3 433.5,191.7ZM473.4,232.3 469.0,228.2 472.4,224.5 476.8,228.6ZM479.1,237.8 474.8,233.7 478.3,230.0 482.6,234.1ZM485.1,243.6 480.7,239.4 484.3,235.6 488.7,239.8ZM497.6,256.0 493.4,251.8 497.2,247.9 501.5,252.1ZM517.8,276.5 513.6,272.2 517.7,268.2 521.9,272.4ZM531.5,290.6 527.3,286.4 531.6,282.1 535.8,286.4ZM444.8,197.5 440.1,193.7 442.6,190.5 447.4,194.2ZM454.7,206.8 450.4,202.6 453.5,199.5 457.8,203.7ZM480.0,236.4 476.1,231.8 479.9,228.7 483.7,233.3ZM490.5,248.7 486.5,244.3 490.3,240.8 494.3,245.3ZM506.7,265.9 502.5,261.6 506.4,257.7 510.6,262.0ZM517.7,277.0 513.4,272.7 517.4,268.7 521.7,272.9ZM528.7,288.0 524.4,283.7 528.6,279.5 532.9,283.7ZM488.6,247.9 484.3,243.8 488.2,239.6 492.6,243.8ZM494.9,254.1 490.6,249.9 494.7,245.7 499.0,249.8ZM344.2,227.2 338.3,225.9 339.0,222.6 344.9,223.9ZM352.5,229.0 346.6,227.7 347.3,224.3 353.2,225.6ZM433.2,248.9 427.5,247.3 428.7,242.9 434.5,244.5ZM440.8,251.2 435.0,249.5 436.4,245.0 442.1,246.7ZM463.2,258.9 457.6,256.8 459.3,252.1 464.9,254.2ZM478.1,265.2 472.6,262.8 474.8,258.0 480.2,260.4ZM500.6,277.1 495.4,274.2 498.1,269.3 503.4,272.3ZM515.8,286.1 510.6,283.1 513.6,278.1 518.7,281.2ZM421.3,256.8 415.6,255.2 416.9,250.4 422.7,252.0ZM432.9,260.6 427.2,258.7 428.8,253.8 434.5,255.6ZM312.2,261.2 306.3,261.6 306.0,258.2 312.0,257.8ZM321.1,260.5 315.1,261.0 314.8,257.5 320.8,257.1ZM438.6,264.2 432.7,263.2 433.5,258.3 439.4,259.3ZM464.8,270.5 459.1,268.8 460.5,263.8 466.3,265.5ZM480.6,276.7 475.1,274.3 477.2,269.3 482.7,271.6ZM495.6,284.2 490.2,281.4 492.8,276.4 498.2,279.1ZM502.9,288.2 497.6,285.4 500.4,280.3 505.7,283.1ZM517.7,296.5 512.4,293.6 515.3,288.3 520.5,291.2ZM304.9,280.0 298.9,279.9 298.9,276.5 304.9,276.5ZM355.7,280.1 349.7,280.4 349.5,276.1 355.5,275.9ZM364.1,279.5 358.2,280.0 357.8,275.7 363.8,275.2ZM410.1,274.9 404.2,275.3 403.8,270.4 409.8,270.0ZM492.2,290.0 486.4,288.2 488.2,282.6 494.0,284.4ZM501.3,293.0 495.6,291.2 497.4,285.5 503.1,287.2ZM510.6,295.8 504.8,294.1 506.5,288.3 512.3,290.0ZM300.1,296.0 294.1,296.1 294.0,292.6 300.0,292.5ZM311.9,296.0 305.9,296.1 305.9,292.4 311.9,292.3ZM323.9,295.6 317.9,295.9 317.7,292.0 323.7,291.7ZM348.2,292.0 342.4,293.4 341.4,289.2 347.2,287.7ZM360.1,288.1 354.5,290.1 353.0,285.7 358.6,283.7ZM397.2,277.5 391.3,278.4 390.5,273.3 396.4,272.3ZM426.6,276.0 420.6,276.1 420.4,270.4 426.4,270.3ZM434.4,276.0 428.4,276.0 428.3,270.2 434.3,270.2ZM323.2,316.9 317.5,318.9 316.2,315.0 321.8,313.0ZM408.0,279.7 402.1,280.7 401.1,275.1 407.1,274.1ZM466.6,328.6 460.7,328.1 461.0,323.7 467.0,324.1ZM497.2,332.0 491.3,331.3 491.9,326.4 497.9,327.2ZM504.9,333.3 499.0,332.3 499.8,327.4 505.7,328.3ZM512.5,334.7 506.6,333.6 507.6,328.6 513.5,329.7ZM520.1,336.4 514.2,335.1 515.4,330.0 521.2,331.3ZM535.1,340.6 529.4,338.9 530.9,333.7 536.7,335.4ZM542.7,343.1 537.0,341.3 538.7,335.9 544.4,337.8ZM565.5,351.1 559.8,349.1 561.8,343.6 567.4,345.6ZM573.1,353.9 567.4,351.9 569.4,346.2 575.1,348.2ZM580.8,356.5 575.1,354.6 577.0,348.8 582.7,350.7ZM420.2,298.9 414.2,298.6 414.4,295.0 420.4,295.2ZM438.0,299.9 432.1,299.6 432.3,295.5 438.3,295.8ZM465.3,302.9 459.4,302.1 460.0,297.4 466.0,298.2ZM474.8,304.6 468.8,303.6 469.7,298.7 475.6,299.7ZM484.4,306.5 478.5,305.4 479.5,300.3 485.4,301.4ZM514.0,313.2 508.1,311.9 509.4,306.2 515.2,307.5ZM454.7,345.7 448.7,345.1 449.1,340.6 455.1,341.1ZM465.4,346.9 459.4,346.2 459.9,341.5 465.9,342.2ZM535.9,357.0 530.0,356.2 530.8,350.2 536.7,351.0ZM427.4,359.1 421.4,359.4 421.3,355.9 427.3,355.6ZM438.9,358.6 432.9,358.9 432.7,355.2 438.7,354.9ZM510.3,359.0 504.3,358.5 504.8,353.3 510.8,353.9ZM525.4,361.1 519.5,360.3 520.2,354.7 526.2,355.5ZM536.5,362.7 530.5,361.9 531.3,356.1 537.2,356.8ZM540.3,174.2 542.1,168.4 545.6,169.5 543.9,175.3ZM530.0,212.6 531.4,206.7 535.6,207.7 534.3,213.5ZM523.7,262.2 523.0,256.2 528.2,255.6 528.9,261.5ZM561.0,159.3 563.3,153.8 566.6,155.2 564.3,160.7ZM553.8,175.9 556.0,170.3 559.9,171.9 557.7,177.5ZM534.9,230.2 536.6,224.5 542.1,226.2 540.3,231.9ZM529.0,248.2 530.8,242.5 536.7,244.3 534.9,250.0ZM572.3,159.0 574.1,153.2 577.5,154.3 575.7,160.0ZM561.4,190.5 563.5,184.9 567.7,186.5 565.6,192.1ZM558.4,197.4 560.7,191.9 565.1,193.7 562.8,199.2ZM540.3,232.2 543.1,226.9 548.3,229.6 545.5,235.0ZM536.5,239.3 539.3,234.0 544.7,236.7 541.9,242.1ZM572.9,185.3 575.8,180.0 579.8,182.2 576.9,187.5ZM599.7,164.1 602.8,158.9 606.1,160.9 603.0,166.1ZM595.2,170.7 598.5,165.7 602.0,168.0 598.7,173.1ZM589.8,177.6 593.5,172.9 597.1,175.6 593.4,180.4ZM583.1,185.1 587.1,180.6 590.7,183.9 586.8,188.3ZM572.0,196.2 576.2,191.9 580.0,195.7 575.7,199.9ZM559.4,208.0 563.7,203.9 567.7,208.0 563.4,212.1ZM517.0,194.2 516.7,188.2 520.6,188.0 520.9,194.0ZM520.8,241.9 519.9,236.0 525.4,235.2 526.2,241.1ZM523.0,259.3 522.1,253.4 528.2,252.5 529.0,258.5ZM580.6,246.9 579.9,240.9 583.8,240.5 584.5,246.4ZM582.2,266.7 581.8,260.7 586.1,260.5 586.5,266.4ZM584.4,303.5 583.5,297.6 588.7,296.8 589.6,302.7ZM568.1,266.9 566.4,261.2 570.1,260.1 571.8,265.8ZM572.4,283.5 570.8,277.7 575.2,276.5 576.8,282.3ZM574.8,293.3 573.3,287.5 578.0,286.3 579.5,292.1ZM576.6,300.6 575.1,294.8 580.0,293.6 581.5,299.4ZM578.4,308.4 577.0,302.6 582.1,301.3 583.5,307.1ZM580.3,316.5 578.9,310.6 584.2,309.3 585.6,315.1ZM549.6,274.4 546.9,269.0 550.2,267.5 552.8,272.9ZM575.8,326.9 572.9,321.6 577.5,319.0 580.5,324.3ZM587.7,348.6 584.7,343.3 589.9,340.4 592.9,345.6ZM591.6,355.8 588.7,350.5 594.0,347.5 597.0,352.8ZM502.3,236.4 499.4,231.2 502.6,229.5 505.4,234.8ZM514.3,258.0 511.0,253.0 514.8,250.5 518.1,255.5ZM531.1,278.2 526.9,273.9 530.9,270.1 535.0,274.4ZM543.1,291.3 539.0,286.9 543.5,282.7 547.6,287.1ZM271.6,333.5 267.1,329.6 269.5,326.8 274.0,330.8ZM277.4,338.9 272.9,334.9 275.6,331.8 280.1,335.8ZM291.0,351.5 286.5,347.5 289.8,343.8 294.3,347.9ZM310.4,369.9 305.9,365.8 309.9,361.5 314.4,365.5ZM508.3,274.6 503.5,271.0 506.8,266.4 511.7,270.0ZM514.3,279.3 509.5,275.6 513.1,270.8 517.9,274.4ZM546.9,320.3 541.4,317.8 543.6,313.0 549.1,315.5ZM565.3,332.2 560.5,328.7 563.8,324.1 568.6,327.6ZM430.3,313.4 424.3,313.2 424.4,309.8 430.4,309.9ZM458.9,314.3 452.9,314.0 453.0,310.1 459.0,310.4ZM485.6,317.5 479.7,316.6 480.4,312.3 486.3,313.2ZM498.4,320.0 492.5,318.8 493.4,314.3 499.3,315.5ZM510.7,323.1 504.9,321.6 506.1,316.9 511.9,318.4ZM522.4,326.8 516.7,324.9 518.3,320.2 524.0,322.0ZM560.1,349.7 555.3,346.1 558.9,341.3 563.7,345.0ZM399.5,330.1 393.5,329.7 393.8,326.4 399.8,326.8ZM457.4,334.7 451.5,334.1 451.9,330.0 457.9,330.6ZM473.4,336.6 467.4,335.9 467.9,331.6 473.9,332.3ZM481.3,337.7 475.3,336.9 475.9,332.5 481.9,333.3ZM489.2,338.8 483.3,338.0 483.9,333.5 489.8,334.3ZM504.7,341.3 498.8,340.3 499.6,335.6 505.5,336.5ZM512.3,342.6 506.4,341.6 507.2,336.8 513.2,337.8ZM558.7,355.9 553.1,353.8 555.1,348.5 560.7,350.6ZM570.4,360.6 564.8,358.4 567.0,352.9 572.6,355.1ZM486.0,252.8 481.1,249.4 483.9,245.3 488.9,248.7ZM592.5,281.8 592.5,275.8 596.9,275.8 596.9,281.8ZM596.8,341.2 595.8,335.3 601.2,334.4 602.2,340.3ZM600.7,359.3 599.3,353.5 605.1,352.1 606.4,358.0ZM550.3,227.4 552.6,221.8 556.0,223.2 553.7,228.8ZM537.0,260.9 538.9,255.2 544.0,256.9 542.2,262.6ZM532.0,275.3 533.9,269.6 539.6,271.5 537.8,277.2Z" fill="#3e9a45" opacity="0.35" stroke="#3e9a45" stroke-width="1" stroke-linejoin="round"/>
<path d="M365.1,181.1 359.6,178.7 360.9,175.6 366.4,178.0ZM380.4,187.8 374.9,185.5 376.3,182.2 381.8,184.5ZM425.7,209.9 420.5,207.0 422.6,203.2 427.8,206.2ZM477.3,244.0 472.4,240.5 475.4,236.4 480.2,239.9ZM484.2,249.3 479.4,245.7 482.5,241.5 487.3,245.1ZM515.7,276.4 511.3,272.3 515.2,268.1 519.6,272.2ZM462.4,221.9 457.9,217.8 461.2,214.3 465.6,218.3ZM504.2,262.7 500.0,258.4 503.9,254.5 508.2,258.7ZM510.9,269.5 506.7,265.3 510.8,261.2 515.0,265.5ZM414.2,177.3 409.1,174.3 410.8,171.3 416.0,174.3ZM485.2,242.7 481.3,238.1 485.1,234.8 489.0,239.4ZM534.2,293.4 529.9,289.2 534.2,284.9 538.4,289.2ZM449.0,201.8 445.9,196.7 449.2,194.7 452.3,199.8ZM453.3,208.8 450.0,203.8 453.5,201.5 456.8,206.5ZM458.5,216.2 454.9,211.4 458.5,208.7 462.1,213.4ZM470.5,229.8 466.3,225.5 470.0,222.0 474.2,226.3ZM476.3,235.7 472.0,231.5 475.7,227.7 480.0,232.0ZM482.4,241.8 478.0,237.6 481.9,233.6 486.2,237.8ZM369.2,232.5 363.3,231.3 364.1,227.7 370.0,228.9ZM385.8,236.2 379.9,234.9 380.8,231.1 386.6,232.4ZM393.9,238.2 388.1,236.8 389.0,232.9 394.9,234.3ZM410.0,242.4 404.2,240.9 405.3,236.8 411.1,238.3ZM417.8,244.6 412.1,243.0 413.2,238.8 419.0,240.4ZM455.8,256.1 450.1,254.2 451.7,249.6 457.3,251.5ZM470.6,261.9 465.1,259.7 467.0,254.9 472.6,257.2ZM485.6,268.9 480.2,266.3 482.6,261.4 488.0,264.1ZM493.1,272.9 487.8,270.1 490.4,265.3 495.7,268.0ZM538.7,299.9 533.5,296.9 536.6,291.6 541.7,294.6ZM344.3,244.2 338.4,243.6 338.7,240.2 344.7,240.8ZM366.1,246.4 360.1,245.8 360.5,242.0 366.5,242.5ZM387.9,249.1 381.9,248.3 382.5,244.0 388.5,244.8ZM410.0,253.6 404.2,252.2 405.2,247.6 411.1,249.0ZM444.6,264.7 438.9,262.7 440.7,257.6 446.4,259.6ZM456.4,269.1 450.7,267.0 452.7,261.7 458.3,263.8ZM347.6,258.6 341.6,259.0 341.3,255.2 347.3,254.8ZM383.0,258.3 377.0,258.1 377.2,253.9 383.2,254.1ZM392.1,258.9 386.1,258.6 386.4,254.2 392.3,254.5ZM410.7,260.4 404.7,259.9 405.1,255.3 411.1,255.8ZM429.4,262.7 423.5,261.9 424.1,257.1 430.1,257.9ZM447.7,266.0 441.8,264.8 442.7,259.9 448.6,261.0ZM456.4,268.1 450.6,266.6 451.8,261.6 457.6,263.1ZM488.1,280.3 482.7,277.7 485.1,272.7 490.5,275.3ZM510.3,292.4 505.0,289.5 507.9,284.3 513.1,287.2ZM318.6,280.3 312.6,280.2 312.7,276.5 318.7,276.6ZM332.7,280.5 326.7,280.5 326.7,276.6 332.7,276.6ZM347.7,280.4 341.7,280.5 341.6,276.4 347.6,276.2ZM372.9,278.7 367.0,279.3 366.5,274.8 372.5,274.2ZM382.0,277.6 376.1,278.3 375.5,273.8 381.5,273.1ZM400.7,275.6 394.7,276.2 394.2,271.4 400.2,270.8ZM419.5,274.5 413.5,274.7 413.4,269.7 419.4,269.5ZM437.9,275.5 431.9,274.9 432.4,269.7 438.4,270.3ZM455.8,279.0 450.0,277.7 451.2,272.4 457.0,273.6ZM464.9,281.4 459.1,279.9 460.5,274.5 466.3,276.0ZM483.0,287.0 477.3,285.2 479.0,279.7 484.8,281.5ZM372.0,283.8 366.4,285.8 364.7,281.3 370.4,279.2ZM411.4,276.4 405.4,276.8 405.1,271.3 411.0,270.9ZM418.9,276.1 412.9,276.4 412.7,270.8 418.7,270.5ZM442.3,276.0 436.3,276.0 436.2,270.1 442.2,270.1ZM458.0,275.9 452.0,276.0 451.9,269.9 457.9,269.7ZM312.9,320.2 307.1,321.6 306.2,317.8 312.0,316.4ZM420.2,278.1 414.3,278.9 413.4,273.1 419.4,272.2ZM416.4,325.0 410.4,324.8 410.5,321.2 416.5,321.3ZM430.3,325.7 424.3,325.4 424.5,321.5 430.5,321.8ZM444.5,326.6 438.5,326.2 438.8,322.1 444.8,322.5ZM459.1,327.9 453.2,327.5 453.5,323.1 459.5,323.6ZM474.2,329.3 468.3,328.8 468.7,324.2 474.6,324.7ZM489.6,331.0 483.6,330.3 484.1,325.5 490.1,326.2ZM527.6,338.4 521.8,336.9 523.1,331.7 529.0,333.2ZM550.2,345.7 544.6,343.8 546.4,338.4 552.1,340.3ZM447.0,300.6 441.0,300.2 441.4,295.9 447.3,296.3ZM504.0,310.9 498.2,309.6 499.4,304.1 505.2,305.4ZM404.1,341.4 398.1,340.9 398.4,337.5 404.4,337.9ZM414.1,342.1 408.1,341.7 408.4,338.1 414.4,338.5ZM434.1,343.7 428.1,343.3 428.4,339.2 434.4,339.6ZM444.2,344.6 438.3,344.1 438.6,339.8 444.6,340.3ZM476.6,348.3 470.6,347.6 471.2,342.7 477.2,343.4ZM488.1,349.9 482.2,349.1 482.8,344.0 488.8,344.8ZM499.9,351.6 494.0,350.8 494.7,345.4 500.6,346.3ZM511.9,353.4 505.9,352.6 506.7,347.0 512.6,347.8ZM523.9,355.2 518.0,354.4 518.8,348.6 524.7,349.4ZM461.8,357.7 455.8,358.0 455.6,353.9 461.6,353.6ZM483.4,357.4 477.4,357.5 477.3,352.9 483.3,352.9ZM493.2,357.6 487.2,357.5 487.3,352.8 493.3,352.9ZM544.4,161.3 546.1,155.5 549.5,156.5 547.7,162.3ZM524.4,238.0 525.4,232.1 530.2,232.9 529.2,238.9ZM531.6,282.2 528.7,276.9 533.7,274.2 536.6,279.4ZM541.7,299.7 538.8,294.5 544.2,291.5 547.1,296.8ZM557.4,167.5 559.7,161.9 563.3,163.4 561.0,169.0ZM540.7,212.3 542.5,206.6 547.5,208.2 545.7,213.9ZM568.9,169.5 570.7,163.8 574.4,165.0 572.6,170.7ZM551.6,211.3 554.3,205.9 558.9,208.2 556.3,213.5ZM548.0,218.2 550.7,212.9 555.5,215.4 552.8,220.7ZM587.3,157.4 589.9,152.0 593.1,153.5 590.6,158.9ZM582.8,166.8 585.3,161.3 588.8,163.0 586.3,168.4ZM578.0,176.1 580.7,170.7 584.5,172.6 581.8,177.9ZM556.5,209.8 559.9,204.9 564.3,208.0 560.9,212.9ZM551.9,216.0 555.4,211.1 559.9,214.4 556.4,219.3ZM542.7,228.5 546.2,223.6 551.1,227.1 547.6,232.0ZM603.9,157.3 607.0,152.2 610.0,154.0 606.9,159.2ZM577.8,190.5 582.0,186.2 585.6,189.7 581.5,194.0ZM565.8,202.0 570.1,197.9 573.9,201.8 569.6,206.0ZM553.0,214.0 557.3,209.9 561.4,214.1 557.1,218.3ZM517.4,204.4 517.0,198.4 521.2,198.2 521.6,204.1ZM518.7,223.9 518.1,218.0 522.9,217.5 523.5,223.4ZM578.2,225.8 577.5,219.8 580.9,219.4 581.7,225.3ZM581.5,257.1 580.9,251.1 585.0,250.7 585.7,256.7ZM582.3,275.4 582.1,269.4 586.7,269.3 586.9,275.3ZM583.0,293.0 582.5,287.0 587.5,286.6 588.0,292.6ZM589.8,329.3 588.4,323.5 594.0,322.2 595.4,328.0ZM593.1,343.4 591.7,337.6 597.5,336.2 598.9,342.0ZM596.4,357.5 595.0,351.7 601.0,350.2 602.4,356.1ZM584.1,333.0 582.7,327.1 588.5,325.7 589.9,331.5ZM563.2,302.8 560.5,297.4 564.5,295.4 567.2,300.7ZM572.0,319.8 569.1,314.5 573.6,312.1 576.5,317.3ZM537.1,284.8 533.0,280.4 537.2,276.4 541.3,280.7ZM283.7,344.7 279.2,340.7 282.2,337.3 286.7,341.3ZM297.2,357.4 292.7,353.4 296.3,349.4 300.7,353.5ZM481.3,248.3 478.0,243.3 481.4,241.1 484.7,246.1ZM487.2,256.2 483.4,251.6 486.9,248.7 490.7,253.4ZM502.2,269.9 497.4,266.3 500.7,262.0 505.4,265.6ZM462.2,296.1 456.3,295.0 457.0,291.4 462.9,292.5ZM474.4,298.6 468.5,297.4 469.3,293.6 475.2,294.7ZM523.9,311.4 518.2,309.7 519.5,305.1 525.3,306.8ZM444.7,313.7 438.7,313.6 438.8,309.9 444.8,310.0ZM533.2,331.3 527.7,328.9 529.8,324.1 535.3,326.5ZM407.9,330.7 401.9,330.3 402.1,326.9 408.1,327.3ZM449.4,333.9 443.4,333.3 443.7,329.3 449.7,329.8ZM497.0,340.0 491.1,339.1 491.8,334.5 497.7,335.4ZM533.8,347.5 527.9,346.0 529.2,340.9 535.0,342.4ZM582.2,365.2 576.6,363.1 578.8,357.4 584.4,359.4ZM446.3,226.6 441.2,223.4 443.1,220.4 448.2,223.5ZM502.3,264.9 497.4,261.3 500.7,256.8 505.6,260.3ZM510.2,270.9 505.4,267.4 508.9,262.6 513.7,266.1ZM593.8,257.1 594.4,251.1 598.3,251.5 597.7,257.5ZM594.2,319.6 593.6,313.6 598.7,313.2 599.2,319.1ZM598.7,350.5 597.4,344.6 603.0,343.4 604.3,349.3ZM602.5,368.0 601.2,362.2 607.2,360.9 608.5,366.7ZM546.9,234.9 549.2,229.4 553.0,230.9 550.7,236.5ZM543.6,242.9 545.8,237.3 550.0,238.9 547.9,244.5ZM540.4,251.6 542.3,245.9 547.0,247.5 545.0,253.2Z" fill="#3e9a45" opacity="0.5" stroke="#3e9a45" stroke-width="1" stroke-linejoin="round"/>
<path d="M388.1,191.2 382.6,188.8 384.0,185.4 389.6,187.8ZM410.9,201.8 405.5,199.2 407.2,195.6 412.6,198.2ZM433.1,214.3 428.0,211.2 430.2,207.5 435.4,210.5ZM448.1,223.7 443.0,220.5 445.5,216.6 450.5,219.8ZM509.7,270.8 505.3,266.8 509.0,262.6 513.5,266.6ZM527.5,287.6 523.1,283.5 527.2,279.2 531.5,283.3ZM400.4,175.8 395.2,172.8 397.0,169.8 402.2,172.8ZM410.7,181.8 405.5,178.8 407.3,175.6 412.5,178.6ZM420.9,188.0 415.8,184.9 417.8,181.6 422.9,184.7ZM441.5,203.3 436.8,199.5 439.5,196.1 444.2,199.9ZM451.8,212.2 447.3,208.3 450.3,204.8 454.8,208.7ZM491.2,249.6 486.9,245.4 490.7,241.6 495.0,245.8ZM524.7,283.6 520.4,279.3 524.7,275.1 528.9,279.4ZM538.4,297.6 534.2,293.4 538.5,289.0 542.8,293.3ZM424.6,183.4 419.4,180.4 421.3,177.2 426.4,180.2ZM434.8,189.9 429.7,186.6 431.9,183.3 436.9,186.6ZM464.7,218.0 460.7,213.5 464.1,210.4 468.1,214.9ZM469.7,224.0 465.8,219.4 469.4,216.4 473.3,221.0ZM474.8,230.2 471.0,225.6 474.6,222.5 478.5,227.1ZM495.8,254.6 491.7,250.2 495.6,246.6 499.7,251.0ZM501.3,260.3 497.1,255.9 500.9,252.2 505.1,256.5ZM512.2,271.4 507.9,267.2 511.9,263.2 516.1,267.5ZM523.2,282.5 518.9,278.2 523.0,274.1 527.3,278.3ZM539.7,299.0 535.4,294.7 539.8,290.4 544.0,294.6ZM445.1,195.0 441.9,189.8 445.0,188.0 448.1,193.1ZM465.2,224.1 461.2,219.7 464.8,216.4 468.8,220.9ZM501.0,260.2 496.7,256.0 501.0,251.6 505.3,255.8ZM360.9,230.7 355.0,229.5 355.7,226.0 361.6,227.2ZM377.5,234.4 371.6,233.1 372.4,229.4 378.3,230.6ZM402.0,240.3 396.2,238.8 397.2,234.8 403.0,236.2ZM425.6,246.7 419.8,245.2 421.0,240.9 426.8,242.4ZM448.3,253.6 442.6,251.8 444.0,247.2 449.7,249.0ZM508.2,281.6 503.0,278.6 505.9,273.6 511.0,276.7ZM523.4,290.8 518.2,287.7 521.3,282.6 526.4,285.7ZM531.0,295.4 525.8,292.3 528.9,287.1 534.1,290.2ZM355.2,245.3 349.3,244.8 349.6,241.1 355.6,241.6ZM377.0,247.6 371.0,246.9 371.4,242.9 377.4,243.5ZM398.9,251.1 393.0,250.0 393.8,245.5 399.7,246.6ZM468.3,273.5 462.6,271.5 464.6,266.0 470.3,268.0ZM480.2,277.9 474.5,275.9 476.5,270.2 482.2,272.2ZM329.9,259.8 323.9,260.3 323.6,256.8 329.6,256.3ZM338.7,259.2 332.8,259.7 332.5,256.0 338.4,255.5ZM356.4,258.2 350.4,258.5 350.2,254.6 356.2,254.3ZM365.2,257.9 359.2,258.1 359.1,254.1 365.1,253.9ZM374.1,258.0 368.1,258.0 368.1,253.8 374.1,253.9ZM401.4,259.6 395.4,259.1 395.7,254.7 401.7,255.1ZM420.1,261.4 414.1,260.8 414.6,256.1 420.6,256.7ZM472.8,273.4 467.2,271.3 469.0,266.3 474.7,268.3ZM525.2,300.5 519.8,297.7 522.7,292.3 528.0,295.0ZM391.3,276.5 385.3,277.2 384.8,272.6 390.8,271.9ZM428.8,274.7 422.8,274.5 423.0,269.4 428.9,269.6ZM446.8,277.0 440.9,276.0 441.8,270.7 447.7,271.7ZM473.9,284.1 468.2,282.4 469.8,276.9 475.5,278.6ZM336.0,294.5 330.1,295.2 329.6,291.1 335.5,290.4ZM384.3,280.0 378.5,281.6 377.1,276.8 382.9,275.1ZM450.2,276.0 444.2,276.0 444.1,270.0 450.1,269.9ZM293.9,324.0 288.0,325.1 287.3,321.7 293.2,320.6ZM303.3,322.3 297.4,323.5 296.7,319.8 302.6,318.7ZM334.3,311.9 329.0,314.6 327.0,310.7 332.4,308.0ZM346.3,304.9 341.2,308.0 338.8,304.1 344.0,301.0ZM358.8,297.3 353.7,300.4 351.2,296.3 356.3,293.2ZM371.5,290.2 366.2,293.1 363.8,288.6 369.1,285.8ZM383.8,285.0 378.2,287.2 376.4,282.3 382.0,280.1ZM395.9,281.8 390.1,283.3 388.8,278.0 394.6,276.5ZM432.5,276.3 426.6,277.3 425.6,271.2 431.5,270.2ZM402.5,324.5 396.5,324.3 396.6,320.8 402.6,321.0ZM481.9,330.1 475.9,329.5 476.4,324.8 482.3,325.4ZM557.8,348.4 552.2,346.4 554.1,340.9 559.7,342.9ZM411.3,298.4 405.3,298.1 405.5,294.7 411.4,294.9ZM429.1,299.4 423.1,299.1 423.3,295.2 429.3,295.5ZM456.1,301.6 450.1,301.0 450.6,296.5 456.6,297.1ZM494.2,308.6 488.3,307.4 489.4,302.1 495.3,303.4ZM523.9,315.4 518.0,314.2 519.3,308.3 525.2,309.5ZM424.1,342.9 418.1,342.5 418.3,338.6 424.3,339.0ZM450.4,358.1 444.4,358.4 444.2,354.5 450.2,354.3ZM472.9,357.5 466.9,357.6 466.7,353.3 472.7,353.1ZM502.1,358.2 496.1,357.9 496.4,352.9 502.4,353.3ZM518.0,360.0 512.0,359.3 512.7,354.0 518.6,354.7ZM544.0,363.7 538.1,363.0 538.7,356.9 544.7,357.6ZM536.4,187.1 538.1,181.3 541.8,182.4 540.2,188.2ZM533.0,199.9 534.4,194.1 538.4,195.1 537.0,200.9ZM527.0,225.3 528.3,219.5 532.7,220.4 531.4,226.3ZM523.1,250.4 523.5,244.5 528.5,244.8 528.1,250.8ZM526.9,272.7 524.8,267.1 530.0,265.2 532.0,270.9ZM536.8,291.0 533.7,285.9 538.8,282.8 541.9,287.9ZM550.1,185.2 552.2,179.5 556.4,181.1 554.3,186.7ZM546.2,195.8 548.1,190.2 552.7,191.7 550.8,197.4ZM543.5,203.8 545.3,198.1 550.2,199.7 548.3,205.4ZM537.8,221.2 539.6,215.4 544.8,217.1 543.0,222.8ZM531.9,239.3 533.7,233.5 539.4,235.3 537.6,241.0ZM565.3,180.0 567.2,174.4 571.2,175.7 569.3,181.4ZM555.2,204.3 557.7,198.9 562.2,200.9 559.7,206.4ZM544.2,225.2 547.0,219.9 551.9,222.5 549.1,227.8ZM567.2,194.5 570.4,189.4 574.5,191.9 571.4,197.0ZM560.9,203.7 564.3,198.7 568.6,201.6 565.2,206.6ZM547.3,222.2 550.8,217.4 555.5,220.8 552.0,225.6ZM546.7,220.0 551.0,215.8 555.3,220.2 551.0,224.4ZM516.6,184.0 516.3,178.0 519.9,177.8 520.2,183.8ZM517.9,214.3 517.5,208.4 522.0,208.0 522.4,214.0ZM519.7,233.1 518.9,227.1 524.0,226.5 524.8,232.4ZM521.9,250.6 521.0,244.7 526.8,243.8 527.7,249.8ZM579.4,236.4 578.7,230.4 582.3,230.0 583.1,235.9ZM582.4,283.9 582.2,277.9 587.0,277.7 587.2,283.7ZM586.8,315.8 585.6,309.9 590.9,308.8 592.2,314.7ZM566.0,259.2 564.3,253.4 567.7,252.4 569.4,258.2ZM570.2,274.9 568.5,269.1 572.6,267.9 574.2,273.7ZM582.2,324.7 580.8,318.9 586.3,317.5 587.8,323.3ZM586.0,341.1 584.6,335.3 590.6,333.8 592.0,339.6ZM554.0,283.8 551.3,278.4 554.8,276.7 557.5,282.0ZM558.5,293.1 555.8,287.8 559.6,285.9 562.2,291.3ZM568.4,312.8 565.5,307.5 569.8,305.2 572.6,310.5ZM579.8,334.0 576.8,328.8 581.6,326.1 584.6,331.4ZM583.7,341.3 580.8,336.1 585.8,333.3 588.7,338.5ZM506.0,243.7 503.1,238.4 506.6,236.6 509.4,241.9ZM509.9,250.9 506.9,245.7 510.6,243.6 513.6,248.8ZM519.4,265.0 515.7,260.2 519.5,257.3 523.2,262.0ZM525.1,271.7 521.1,267.2 524.9,263.8 528.9,268.2ZM303.7,363.6 299.3,359.5 303.1,355.4 307.5,359.4ZM476.2,240.1 473.0,235.1 476.2,233.1 479.4,238.2ZM494.2,263.4 489.8,259.3 493.2,255.7 497.6,259.7ZM450.0,293.7 444.1,292.6 444.8,289.2 450.7,290.3ZM486.5,301.4 480.7,300.0 481.6,296.0 487.5,297.3ZM498.8,304.5 493.0,303.1 494.0,298.8 499.8,300.3ZM511.4,307.8 505.6,306.3 506.7,301.9 512.5,303.4ZM535.9,315.5 530.3,313.5 532.0,308.8 537.6,310.8ZM556.5,325.9 551.4,322.8 554.2,318.2 559.3,321.3ZM573.9,338.8 569.1,335.2 572.7,330.4 577.5,334.0ZM582.7,345.3 577.8,341.8 581.4,336.8 586.3,340.3ZM472.5,315.5 466.6,314.9 467.0,310.8 473.0,311.4ZM542.8,336.8 537.6,333.7 540.4,329.0 545.6,332.1ZM551.6,343.0 546.7,339.5 550.0,334.9 554.9,338.4ZM568.9,356.3 564.0,352.8 567.6,347.8 572.5,351.3ZM416.2,331.3 410.2,330.9 410.5,327.3 416.4,327.7ZM424.6,331.9 418.6,331.5 418.8,327.8 424.8,328.2ZM432.9,332.5 426.9,332.1 427.2,328.3 433.1,328.7ZM441.2,333.1 435.2,332.7 435.5,328.8 441.5,329.2ZM465.4,335.6 459.5,335.0 459.9,330.7 465.9,331.4ZM519.7,344.1 513.8,343.0 514.8,338.0 520.7,339.2ZM546.7,351.4 541.0,349.6 542.6,344.4 548.3,346.2ZM452.7,230.6 447.6,227.5 449.5,224.2 454.7,227.4ZM459.0,234.6 453.9,231.5 456.0,228.1 461.1,231.2ZM468.4,240.7 463.3,237.5 465.6,233.8 470.7,237.0ZM477.5,246.7 472.4,243.4 475.0,239.5 480.0,242.8ZM494.3,258.8 489.4,255.3 492.5,251.0 497.3,254.5ZM596.8,232.6 597.6,226.6 601.0,227.0 600.3,233.0ZM595.2,244.8 595.9,238.8 599.6,239.3 598.9,245.2ZM592.8,269.4 593.1,263.4 597.3,263.6 597.0,269.6ZM592.7,294.6 592.5,288.6 597.1,288.4 597.3,294.4ZM593.3,307.3 592.9,301.3 597.7,301.0 598.1,307.0ZM595.3,331.0 594.6,325.0 599.8,324.4 600.5,330.3ZM534.5,268.1 536.4,262.4 541.8,264.1 540.0,269.8Z" fill="#3e9a45" opacity="0.7" stroke="#3e9a45" stroke-width="1" stroke-linejoin="round"/>
<defs><filter id="cblur" x="-30%" y="-30%" width="160%" height="160%"><feGaussianBlur stdDeviation="6"/></filter></defs>
<path d="M446.2,253.4 L484.7,261.6 L517.7,283.6 L550.8,311.2 L578.3,344.2 L589.3,369.0 L545.3,369.0 L512.2,344.2 L479.2,311.2 L451.7,278.1Z" fill="#bdd23a" opacity="0.6" filter="url(#cblur)"/>
</g>
<g mask="url(#cr)"><rect x="651" y="148" width="379" height="199" fill="#7b5b22"/>
<rect x="651" y="148" width="379" height="42" fill="#a9dced"/>
<path d="M651,190 L680,188.5 L700,190 L730,188 L760,190 L800,188.5 L840,190.5 L880,188 L920,190 L960,188.5 L1000,190 L1030,189 L1030,194 L651,194Z" fill="#5f4516"/>
<path d="M719.7,147.9 Q695.4,139.7 693.6,165.3 Q717.9,173.5 719.7,147.9Z" fill="#3aa248"/>
<path d="M727.0,155.2 Q699.4,159.6 709.6,185.7 Q737.2,181.2 727.0,155.2Z" fill="#3aa248"/>
<path d="M738.6,147.9 Q719.0,156.9 729.9,175.5 Q749.5,166.5 738.6,147.9Z" fill="#3aa248"/>
<path d="M745.9,147.9 Q737.4,151.0 743.0,158.1 Q751.4,155.0 745.9,147.9Z" fill="#3aa248"/>
<path d="M761.9,147.9 Q750.6,163.1 769.1,166.8 Q780.4,151.6 761.9,147.9Z" fill="#3aa248"/>
<path d="M779.3,147.9 Q769.9,186.9 809.8,182.8 Q819.1,143.8 779.3,147.9Z" fill="#3aa248"/>
<path d="M899.9,146.5 Q856.1,136.7 860.6,181.3 Q904.4,191.0 899.9,146.5Z" fill="#3aa248"/>
<path d="M911.5,147.9 Q907.2,155.5 915.8,156.6 Q920.2,149.0 911.5,147.9Z" fill="#3aa248"/>
<path d="M960.9,147.9 Q946.2,163.5 966.7,169.7 Q981.3,154.1 960.9,147.9Z" fill="#3aa248"/>
<path d="M981.2,147.9 Q966.9,181.3 1003.0,185.7 Q1017.3,152.3 981.2,147.9Z" fill="#3aa248"/>
<path d="M1007.4,147.9 Q1008.1,158.4 1017.5,153.7 Q1016.8,143.2 1007.4,147.9Z" fill="#3aa248"/>
<rect x="750.5" y="148" width="6" height="42" fill="#2c8e3e"/><rect x="935" y="148" width="7" height="42" fill="#2c8e3e"/>
<circle cx="743.0" cy="276.6" r="0.7" fill="#c9ab3c" opacity="0.8"/>
<circle cx="878.5" cy="288.9" r="0.5" fill="#c9ab3c" opacity="0.8"/>
<circle cx="659.9" cy="320.6" r="0.7" fill="#c9ab3c" opacity="0.8"/>
<circle cx="741.7" cy="344.3" r="0.8" fill="#c9ab3c" opacity="0.8"/>
<circle cx="964.5" cy="266.5" r="0.9" fill="#c9ab3c" opacity="0.8"/>
<circle cx="710.7" cy="290.2" r="1.0" fill="#c9ab3c" opacity="0.8"/>
<circle cx="848.6" cy="306.2" r="0.9" fill="#c9ab3c" opacity="0.8"/>
<circle cx="678.7" cy="308.7" r="0.9" fill="#c9ab3c" opacity="0.8"/>
<circle cx="766.5" cy="199.7" r="1.0" fill="#c9ab3c" opacity="0.8"/>
<circle cx="829.9" cy="302.8" r="1.0" fill="#c9ab3c" opacity="0.8"/>
<circle cx="919.2" cy="333.2" r="0.7" fill="#c9ab3c" opacity="0.8"/>
<circle cx="951.3" cy="261.7" r="1.1" fill="#c9ab3c" opacity="0.8"/>
<circle cx="980.2" cy="209.6" r="0.6" fill="#c9ab3c" opacity="0.8"/>
<circle cx="735.3" cy="339.8" r="0.8" fill="#c9ab3c" opacity="0.8"/>
<circle cx="886.9" cy="240.2" r="0.8" fill="#c9ab3c" opacity="0.8"/>
<circle cx="797.8" cy="247.6" r="0.9" fill="#c9ab3c" opacity="0.8"/>
<circle cx="871.2" cy="330.6" r="0.9" fill="#c9ab3c" opacity="0.8"/>
<circle cx="998.7" cy="323.5" r="1.1" fill="#c9ab3c" opacity="0.8"/>
<circle cx="903.4" cy="219.5" r="1.0" fill="#c9ab3c" opacity="0.8"/>
<circle cx="1011.9" cy="330.7" r="0.8" fill="#c9ab3c" opacity="0.8"/>
<circle cx="919.1" cy="226.7" r="1.0" fill="#c9ab3c" opacity="0.8"/>
<circle cx="867.2" cy="237.7" r="0.5" fill="#c9ab3c" opacity="0.8"/>
<circle cx="971.0" cy="343.5" r="0.6" fill="#c9ab3c" opacity="0.8"/>
<circle cx="951.2" cy="256.6" r="0.6" fill="#c9ab3c" opacity="0.8"/>
<circle cx="763.7" cy="310.3" r="1.0" fill="#c9ab3c" opacity="0.8"/>
<circle cx="671.4" cy="287.2" r="0.5" fill="#c9ab3c" opacity="0.8"/>
<circle cx="920.8" cy="244.6" r="1.0" fill="#c9ab3c" opacity="0.8"/>
<circle cx="1017.8" cy="270.8" r="1.1" fill="#c9ab3c" opacity="0.8"/>
<circle cx="769.6" cy="206.5" r="0.9" fill="#c9ab3c" opacity="0.8"/>
<circle cx="666.6" cy="224.6" r="0.7" fill="#c9ab3c" opacity="0.8"/>
<circle cx="880.9" cy="218.4" r="0.5" fill="#c9ab3c" opacity="0.8"/>
<circle cx="976.1" cy="242.1" r="1.1" fill="#c9ab3c" opacity="0.8"/>
<circle cx="986.8" cy="251.7" r="0.8" fill="#c9ab3c" opacity="0.8"/>
<circle cx="847.4" cy="291.6" r="0.9" fill="#c9ab3c" opacity="0.8"/>
<circle cx="861.9" cy="288.0" r="1.1" fill="#c9ab3c" opacity="0.8"/>
<circle cx="842.6" cy="259.7" r="0.9" fill="#c9ab3c" opacity="0.8"/>
<circle cx="742.9" cy="240.2" r="1.1" fill="#c9ab3c" opacity="0.8"/>
<circle cx="847.8" cy="277.3" r="0.5" fill="#c9ab3c" opacity="0.8"/>
<circle cx="808.6" cy="282.0" r="0.5" fill="#c9ab3c" opacity="0.8"/>
<circle cx="882.8" cy="289.8" r="0.5" fill="#c9ab3c" opacity="0.8"/>
<circle cx="887.1" cy="264.9" r="0.9" fill="#c9ab3c" opacity="0.8"/>
<circle cx="785.5" cy="301.0" r="0.9" fill="#c9ab3c" opacity="0.8"/>
<circle cx="663.2" cy="204.1" r="0.9" fill="#c9ab3c" opacity="0.8"/>
<circle cx="1011.4" cy="232.7" r="0.8" fill="#c9ab3c" opacity="0.8"/>
<circle cx="874.3" cy="243.0" r="0.7" fill="#c9ab3c" opacity="0.8"/>
<circle cx="770.7" cy="250.4" r="0.9" fill="#c9ab3c" opacity="0.8"/>
<circle cx="766.1" cy="251.6" r="1.0" fill="#c9ab3c" opacity="0.8"/>
<circle cx="665.0" cy="280.4" r="0.9" fill="#c9ab3c" opacity="0.8"/>
<circle cx="769.7" cy="228.4" r="1.0" fill="#c9ab3c" opacity="0.8"/>
<circle cx="743.3" cy="223.1" r="0.8" fill="#c9ab3c" opacity="0.8"/>
<circle cx="913.3" cy="210.3" r="0.7" fill="#c9ab3c" opacity="0.8"/>
<circle cx="778.5" cy="320.0" r="0.8" fill="#c9ab3c" opacity="0.8"/>
<circle cx="971.5" cy="220.4" r="0.7" fill="#c9ab3c" opacity="0.8"/>
<circle cx="895.6" cy="327.7" r="0.8" fill="#c9ab3c" opacity="0.8"/>
<circle cx="738.3" cy="213.1" r="0.8" fill="#c9ab3c" opacity="0.8"/>
<circle cx="725.6" cy="316.0" r="1.0" fill="#c9ab3c" opacity="0.8"/>
<circle cx="722.9" cy="236.8" r="1.0" fill="#c9ab3c" opacity="0.8"/>
<circle cx="892.5" cy="315.9" r="0.7" fill="#c9ab3c" opacity="0.8"/>
<circle cx="703.0" cy="238.8" r="1.0" fill="#c9ab3c" opacity="0.8"/>
<circle cx="755.3" cy="247.0" r="0.8" fill="#c9ab3c" opacity="0.8"/>
<circle cx="810.3" cy="256.4" r="1.1" fill="#c9ab3c" opacity="0.8"/>
<circle cx="712.7" cy="195.7" r="1.1" fill="#c9ab3c" opacity="0.8"/>
<circle cx="980.6" cy="343.0" r="0.8" fill="#c9ab3c" opacity="0.8"/>
<circle cx="1006.6" cy="334.1" r="0.6" fill="#c9ab3c" opacity="0.8"/>
<circle cx="930.8" cy="320.5" r="0.9" fill="#c9ab3c" opacity="0.8"/>
<circle cx="847.0" cy="238.4" r="0.7" fill="#c9ab3c" opacity="0.8"/>
<circle cx="739.2" cy="205.2" r="0.9" fill="#c9ab3c" opacity="0.8"/>
<circle cx="761.2" cy="316.5" r="0.5" fill="#c9ab3c" opacity="0.8"/>
<circle cx="989.3" cy="299.1" r="1.1" fill="#c9ab3c" opacity="0.8"/>
<circle cx="986.7" cy="330.0" r="0.8" fill="#c9ab3c" opacity="0.8"/>
<circle cx="659.9" cy="306.8" r="0.6" fill="#c9ab3c" opacity="0.8"/>
<circle cx="766.0" cy="294.4" r="0.8" fill="#c9ab3c" opacity="0.8"/>
<circle cx="808.1" cy="335.9" r="0.9" fill="#c9ab3c" opacity="0.8"/>
<circle cx="781.3" cy="232.9" r="1.0" fill="#c9ab3c" opacity="0.8"/>
<circle cx="831.6" cy="312.3" r="0.7" fill="#c9ab3c" opacity="0.8"/>
<circle cx="728.0" cy="275.2" r="1.0" fill="#c9ab3c" opacity="0.8"/>
<circle cx="718.4" cy="313.8" r="1.1" fill="#c9ab3c" opacity="0.8"/>
<circle cx="953.2" cy="318.5" r="0.5" fill="#c9ab3c" opacity="0.8"/>
<circle cx="887.6" cy="324.4" r="0.5" fill="#c9ab3c" opacity="0.8"/>
<circle cx="755.4" cy="235.3" r="0.8" fill="#c9ab3c" opacity="0.8"/>
<circle cx="811.5" cy="265.9" r="1.0" fill="#c9ab3c" opacity="0.8"/>
<circle cx="655.7" cy="203.2" r="0.6" fill="#c9ab3c" opacity="0.8"/>
<circle cx="701.1" cy="205.3" r="1.1" fill="#c9ab3c" opacity="0.8"/>
<circle cx="971.1" cy="207.9" r="0.8" fill="#c9ab3c" opacity="0.8"/>
<circle cx="771.9" cy="242.2" r="0.7" fill="#c9ab3c" opacity="0.8"/>
<circle cx="894.4" cy="283.0" r="0.7" fill="#c9ab3c" opacity="0.8"/>
<circle cx="725.7" cy="244.3" r="0.6" fill="#c9ab3c" opacity="0.8"/>
<circle cx="860.5" cy="302.4" r="0.7" fill="#c9ab3c" opacity="0.8"/>
<circle cx="684.6" cy="221.8" r="0.7" fill="#c9ab3c" opacity="0.8"/>
<circle cx="878.6" cy="312.4" r="0.7" fill="#c9ab3c" opacity="0.8"/>
<circle cx="951.4" cy="288.4" r="2.0" fill="#5a3f16" opacity="0.6"/>
<circle cx="792.8" cy="269.4" r="2.3" fill="#5a3f16" opacity="0.6"/>
<circle cx="810.6" cy="299.1" r="2.0" fill="#5a3f16" opacity="0.6"/>
<circle cx="745.7" cy="275.4" r="2.3" fill="#5a3f16" opacity="0.6"/>
<circle cx="681.5" cy="258.7" r="2.0" fill="#5a3f16" opacity="0.6"/>
<circle cx="980.5" cy="335.5" r="1.9" fill="#5a3f16" opacity="0.6"/>
<circle cx="987.2" cy="313.6" r="1.8" fill="#5a3f16" opacity="0.6"/>
<circle cx="826.7" cy="213.5" r="2.4" fill="#5a3f16" opacity="0.6"/>
<circle cx="900.0" cy="328.1" r="2.4" fill="#5a3f16" opacity="0.6"/>
<circle cx="902.0" cy="305.1" r="2.1" fill="#5a3f16" opacity="0.6"/>
<circle cx="693.2" cy="283.2" r="1.5" fill="#5a3f16" opacity="0.6"/>
<circle cx="708.1" cy="311.1" r="1.5" fill="#5a3f16" opacity="0.6"/>
<circle cx="689.0" cy="209.9" r="2.5" fill="#5a3f16" opacity="0.6"/>
<circle cx="721.3" cy="198.5" r="2.4" fill="#5a3f16" opacity="0.6"/>
<circle cx="699.9" cy="321.6" r="2.2" fill="#5a3f16" opacity="0.6"/>
<circle cx="964.4" cy="337.9" r="2.1" fill="#5a3f16" opacity="0.6"/>
<circle cx="950.5" cy="200.4" r="2.3" fill="#5a3f16" opacity="0.6"/>
<circle cx="844.2" cy="302.3" r="1.6" fill="#5a3f16" opacity="0.6"/>
<circle cx="932.1" cy="335.2" r="1.6" fill="#5a3f16" opacity="0.6"/>
<circle cx="775.0" cy="279.6" r="2.4" fill="#5a3f16" opacity="0.6"/>
<circle cx="744.6" cy="222.0" r="1.8" fill="#5a3f16" opacity="0.6"/>
<circle cx="882.9" cy="308.0" r="1.9" fill="#5a3f16" opacity="0.6"/>
<circle cx="791.0" cy="254.5" r="1.9" fill="#5a3f16" opacity="0.6"/>
<circle cx="809.7" cy="207.5" r="2.1" fill="#5a3f16" opacity="0.6"/>
<circle cx="1015.0" cy="256.9" r="2.3" fill="#5a3f16" opacity="0.6"/>
<circle cx="714.4" cy="298.6" r="2.3" fill="#5a3f16" opacity="0.6"/>
<circle cx="904.3" cy="272.6" r="2.0" fill="#5a3f16" opacity="0.6"/>
<circle cx="892.9" cy="329.6" r="1.7" fill="#5a3f16" opacity="0.6"/>
<circle cx="690.5" cy="307.2" r="2.5" fill="#5a3f16" opacity="0.6"/>
<circle cx="846.4" cy="261.5" r="2.3" fill="#5a3f16" opacity="0.6"/>
<circle cx="723.9" cy="235.1" r="1.7" fill="#5a3f16" opacity="0.6"/>
<circle cx="871.7" cy="242.2" r="1.8" fill="#5a3f16" opacity="0.6"/>
<circle cx="910.7" cy="338.0" r="1.8" fill="#5a3f16" opacity="0.6"/>
<circle cx="916.0" cy="257.0" r="2.4" fill="#5a3f16" opacity="0.6"/>
<circle cx="871.3" cy="235.1" r="1.7" fill="#5a3f16" opacity="0.6"/>
<path d="M938.0,191.7 C937.5,194.1 936.7,201.7 935.4,206.0 C934.1,210.3 933.4,214.2 930.2,217.7 C926.9,221.2 919.4,223.3 915.9,226.8 C912.4,230.3 911.6,234.6 909.4,238.5 C907.2,242.4 906.8,247.4 902.9,250.2 C899.0,253.0 890.5,252.4 886.0,255.4 C881.4,258.4 878.2,263.6 875.6,268.4 C873.0,273.1 871.7,278.1 870.4,284.0 C869.1,289.8 867.8,297.0 867.8,303.5 C867.8,310.0 870.4,316.5 870.4,323.0 C870.4,329.5 868.2,339.2 867.8,342.5" stroke="#e2ddc6" stroke-width="4.39" fill="none" stroke-linecap="round" stroke-linejoin="round"/>
<path d="M909.4,238.5 C906.6,238.3 897.5,236.8 892.5,237.2 C887.5,237.6 883.6,238.9 879.5,241.1 C875.4,243.3 869.7,248.7 867.8,250.2" stroke="#e2ddc6" stroke-width="3.04" fill="none" stroke-linecap="round" stroke-linejoin="round"/>
<path d="M886.0,255.4 C883.0,255.4 873.9,254.1 867.8,255.4 C861.7,256.7 852.6,261.9 849.6,263.2" stroke="#e2ddc6" stroke-width="3.04" fill="none" stroke-linecap="round" stroke-linejoin="round"/>
<path d="M902.9,250.2 C903.5,253.7 904.8,263.6 906.8,271.0 C908.7,278.3 912.9,286.8 914.6,294.4 C916.3,302.0 917.6,308.0 917.2,316.5 C916.8,324.9 912.9,340.3 912.0,345.1" stroke="#e2ddc6" stroke-width="3.72" fill="none" stroke-linecap="round" stroke-linejoin="round"/>
<path d="M906.8,271.0 C904.4,273.6 895.1,281.2 892.5,286.6 C889.9,292.0 891.4,300.7 891.2,303.5" stroke="#e2ddc6" stroke-width="2.37" fill="none" stroke-linecap="round" stroke-linejoin="round"/>
<path d="M899.0,260.6 L889.9,278.8" stroke="#e2ddc6" stroke-width="2.03" fill="none" stroke-linecap="round" stroke-linejoin="round"/>
<path d="M930.2,217.7 C932.4,219.6 939.7,225.3 943.2,229.4 C946.6,233.5 950.1,237.6 951.0,242.4 C951.8,247.2 949.7,252.8 948.4,258.0 C947.1,263.2 944.9,269.2 943.2,273.6 C941.4,277.9 939.7,281.8 938.0,284.0 C936.2,286.1 933.7,286.1 932.8,286.6" stroke="#e2ddc6" stroke-width="5.07" fill="none" stroke-linecap="round" stroke-linejoin="round"/>
<path d="M943.2,229.4 C941.0,231.6 933.7,237.6 930.2,242.4 C926.7,247.2 923.7,251.5 922.4,258.0 C921.1,264.5 922.4,277.5 922.4,281.4" stroke="#e2ddc6" stroke-width="2.70" fill="none" stroke-linecap="round" stroke-linejoin="round"/>
<path d="M930.2,242.4 L927.6,264.5" stroke="#e2ddc6" stroke-width="2.03" fill="none" stroke-linecap="round" stroke-linejoin="round"/>
<path d="M938.0,284.0 C940.1,283.5 946.6,280.9 951.0,281.4 C955.3,281.8 960.3,283.1 964.0,286.6 C967.7,290.0 970.9,299.1 973.1,302.2 C975.2,305.2 976.3,304.3 977.0,304.8" stroke="#e2ddc6" stroke-width="3.38" fill="none" stroke-linecap="round" stroke-linejoin="round"/>
<path d="M932.8,286.6 C931.1,288.3 925.0,292.0 922.4,297.0 C919.8,302.0 918.1,313.2 917.2,316.5" stroke="#e2ddc6" stroke-width="2.70" fill="none" stroke-linecap="round" stroke-linejoin="round"/>
<path d="M932.8,286.6 C934.1,289.2 938.0,297.2 940.6,302.2 C943.2,307.2 946.6,310.8 948.4,316.5 C950.1,322.1 950.5,332.7 951.0,336.0" stroke="#e2ddc6" stroke-width="2.70" fill="none" stroke-linecap="round" stroke-linejoin="round"/>
<path d="M940.6,302.2 L932.8,336.0" stroke="#e2ddc6" stroke-width="2.03" fill="none" stroke-linecap="round" stroke-linejoin="round"/>
<path d="M964.0,286.6 C963.1,290.5 959.2,301.7 958.8,310.0 C958.3,318.2 960.9,331.6 961.4,336.0" stroke="#e2ddc6" stroke-width="2.37" fill="none" stroke-linecap="round" stroke-linejoin="round"/>
<path d="M973.1,302.2 C973.7,305.6 975.9,316.3 977.0,323.0 C978.1,329.7 979.1,339.2 979.6,342.5" stroke="#e2ddc6" stroke-width="2.37" fill="none" stroke-linecap="round" stroke-linejoin="round"/>
<path d="M973.1,302.2 C975.5,304.8 984.1,312.1 987.4,317.8 C990.6,323.4 991.7,332.9 992.6,336.0" stroke="#e2ddc6" stroke-width="2.03" fill="none" stroke-linecap="round" stroke-linejoin="round"/>
<path d="M938.0,191.7 C940.1,193.6 947.1,198.8 951.0,203.4 C954.9,207.9 958.1,216.4 961.4,219.0 C964.6,221.6 966.8,217.5 970.5,219.0 C974.2,220.5 978.1,225.5 983.5,228.1 C988.9,230.7 997.6,232.6 1003.0,234.6 C1008.4,236.5 1012.9,237.6 1016.0,239.8 C1019.0,242.0 1020.3,246.3 1021.2,247.6" stroke="#e2ddc6" stroke-width="4.39" fill="none" stroke-linecap="round" stroke-linejoin="round"/>
<path d="M951.0,203.4 L944.5,219.0" stroke="#e2ddc6" stroke-width="2.03" fill="none" stroke-linecap="round" stroke-linejoin="round"/>
<path d="M961.4,219.0 C962.2,221.8 965.3,229.8 966.6,235.9 C967.9,242.0 970.0,249.5 969.2,255.4 C968.3,261.2 962.7,268.4 961.4,271.0" stroke="#e2ddc6" stroke-width="2.70" fill="none" stroke-linecap="round" stroke-linejoin="round"/>
<path d="M966.6,235.9 L958.8,242.4" stroke="#e2ddc6" stroke-width="1.69" fill="none" stroke-linecap="round" stroke-linejoin="round"/>
<path d="M970.5,245.0 L970.5,264.5" stroke="#e2ddc6" stroke-width="1.69" fill="none" stroke-linecap="round" stroke-linejoin="round"/>
<path d="M983.5,228.1 C984.1,230.9 987.2,239.6 987.4,245.0 C987.6,250.4 986.1,256.2 984.8,260.6 C983.5,264.9 979.4,267.1 979.6,271.0 C979.8,274.9 985.2,277.5 986.1,284.0 C986.9,290.5 984.6,301.3 984.8,310.0 C985.0,318.6 986.9,331.6 987.4,336.0" stroke="#e2ddc6" stroke-width="3.04" fill="none" stroke-linecap="round" stroke-linejoin="round"/>
<path d="M979.6,271.0 L977.0,297.0" stroke="#e2ddc6" stroke-width="2.03" fill="none" stroke-linecap="round" stroke-linejoin="round"/>
<path d="M1003.0,234.6 C1003.0,238.1 1004.3,249.3 1003.0,255.4 C1001.7,261.4 996.5,268.4 995.2,271.0" stroke="#e2ddc6" stroke-width="2.37" fill="none" stroke-linecap="round" stroke-linejoin="round"/>
<path d="M1003.0,234.6 C1005.1,239.4 1014.9,257.1 1016.0,263.2 C1017.0,269.2 1008.4,267.5 1009.5,271.0 C1010.6,274.4 1019.6,277.5 1022.5,284.0 C1025.3,290.5 1025.7,305.6 1026.4,310.0" stroke="#e2ddc6" stroke-width="2.70" fill="none" stroke-linecap="round" stroke-linejoin="round"/>
<path d="M1009.5,271.0 L997.8,289.2" stroke="#e2ddc6" stroke-width="2.03" fill="none" stroke-linecap="round" stroke-linejoin="round"/>
<path d="M1016.0,297.0 C1013.4,301.3 1004.7,315.4 1000.4,323.0 C996.0,330.6 991.7,339.2 990.0,342.5" stroke="#e2ddc6" stroke-width="2.03" fill="none" stroke-linecap="round" stroke-linejoin="round"/>
<path d="M1016.0,297.0 L1022.5,323.0" stroke="#e2ddc6" stroke-width="2.03" fill="none" stroke-linecap="round" stroke-linejoin="round"/>
<path d="M875.6,268.4 L862.6,278.8" stroke="#e2ddc6" stroke-width="2.03" fill="none" stroke-linecap="round" stroke-linejoin="round"/>
<path d="M870.4,284.0 L880.8,297.0" stroke="#e2ddc6" stroke-width="1.69" fill="none" stroke-linecap="round" stroke-linejoin="round"/>
<path d="M867.8,303.5 L860.0,316.5" stroke="#e2ddc6" stroke-width="1.69" fill="none" stroke-linecap="round" stroke-linejoin="round"/>
<path d="M917.2,316.5 L927.6,329.5" stroke="#e2ddc6" stroke-width="1.69" fill="none" stroke-linecap="round" stroke-linejoin="round"/>
<path d="M912.0,212.5 L922.4,222.9" stroke="#e2ddc6" stroke-width="1.35" fill="none" stroke-linecap="round" stroke-linejoin="round"/>
<path d="M974.4,225.5 L977.0,241.1" stroke="#e2ddc6" stroke-width="1.35" fill="none" stroke-linecap="round" stroke-linejoin="round"/>
<path d="M990.0,232.0 L993.9,242.4" stroke="#e2ddc6" stroke-width="1.35" fill="none" stroke-linecap="round" stroke-linejoin="round"/>
<path d="M893.8,291.8 L901.6,304.8" stroke="#e2ddc6" stroke-width="1.69" fill="none" stroke-linecap="round" stroke-linejoin="round"/>
<path d="M892.5,237.2 L886.0,252.8" stroke="#e2ddc6" stroke-width="1.35" fill="none" stroke-linecap="round" stroke-linejoin="round"/>
<path d="M879.5,241.1 L875.6,252.8" stroke="#e2ddc6" stroke-width="1.35" fill="none" stroke-linecap="round" stroke-linejoin="round"/>
<path d="M914.6,294.4 C912.6,297.0 905.5,305.2 902.9,310.0 C900.3,314.7 899.6,320.8 899.0,323.0" stroke="#e2ddc6" stroke-width="1.69" fill="none" stroke-linecap="round" stroke-linejoin="round"/>
<path d="M914.6,294.4 L927.6,307.4" stroke="#e2ddc6" stroke-width="1.35" fill="none" stroke-linecap="round" stroke-linejoin="round"/>
<path d="M948.4,258.0 L958.8,271.0" stroke="#e2ddc6" stroke-width="1.35" fill="none" stroke-linecap="round" stroke-linejoin="round"/>
<path d="M922.4,258.0 L914.6,271.0" stroke="#e2ddc6" stroke-width="1.35" fill="none" stroke-linecap="round" stroke-linejoin="round"/>
<path d="M951.0,316.5 L961.4,325.6" stroke="#e2ddc6" stroke-width="1.35" fill="none" stroke-linecap="round" stroke-linejoin="round"/>
<path d="M958.8,310.0 L951.0,325.6" stroke="#e2ddc6" stroke-width="1.35" fill="none" stroke-linecap="round" stroke-linejoin="round"/>
<path d="M987.4,245.0 L997.8,252.8" stroke="#e2ddc6" stroke-width="1.35" fill="none" stroke-linecap="round" stroke-linejoin="round"/>
<path d="M995.2,271.0 L990.0,284.0" stroke="#e2ddc6" stroke-width="1.35" fill="none" stroke-linecap="round" stroke-linejoin="round"/>
<path d="M1022.5,284.0 L1013.4,291.8" stroke="#e2ddc6" stroke-width="1.35" fill="none" stroke-linecap="round" stroke-linejoin="round"/>
<path d="M984.8,310.0 L974.4,323.0" stroke="#e2ddc6" stroke-width="1.35" fill="none" stroke-linecap="round" stroke-linejoin="round"/>
<path d="M1003.0,255.4 L1009.5,263.2" stroke="#e2ddc6" stroke-width="1.35" fill="none" stroke-linecap="round" stroke-linejoin="round"/>
<path d="M961.4,219.0 L953.6,226.8" stroke="#e2ddc6" stroke-width="1.35" fill="none" stroke-linecap="round" stroke-linejoin="round"/>
<path d="M970.5,219.0 L973.1,229.4" stroke="#e2ddc6" stroke-width="1.35" fill="none" stroke-linecap="round" stroke-linejoin="round"/>
<path d="M1016.0,239.8 L1013.4,250.2" stroke="#e2ddc6" stroke-width="1.35" fill="none" stroke-linecap="round" stroke-linejoin="round"/>
<path d="M867.8,342.5 L875.6,333.4" stroke="#e2ddc6" stroke-width="1.35" fill="none" stroke-linecap="round" stroke-linejoin="round"/>
<path d="M917.2,316.5 L906.8,329.5" stroke="#e2ddc6" stroke-width="1.35" fill="none" stroke-linecap="round" stroke-linejoin="round"/>
<path d="M932.8,336.0 L938.0,345.1" stroke="#e2ddc6" stroke-width="1.35" fill="none" stroke-linecap="round" stroke-linejoin="round"/>
<path d="M977.0,323.0 L969.2,336.0" stroke="#e2ddc6" stroke-width="1.35" fill="none" stroke-linecap="round" stroke-linejoin="round"/>
<path d="M901.4,238.4 C898.4,240.9 888.5,248.3 883.5,253.3 C878.6,258.3 874.6,263.2 871.6,268.2 C868.6,273.2 867.6,276.7 865.6,283.1 C863.6,289.6 861.7,299.0 859.7,307.0 C857.7,314.9 854.7,326.8 853.7,330.8" stroke="#e2ddc6" stroke-width="2.68" fill="none" stroke-linecap="round" stroke-linejoin="round"/>
<path d="M883.5,253.3 C880.5,254.3 870.6,256.8 865.6,259.3 C860.7,261.7 855.7,266.7 853.7,268.2" stroke="#e2ddc6" stroke-width="2.39" fill="none" stroke-linecap="round" stroke-linejoin="round"/>
<path d="M871.6,280.1 L853.7,289.1" stroke="#e2ddc6" stroke-width="2.39" fill="none" stroke-linecap="round" stroke-linejoin="round"/>
<path d="M859.7,307.0 L844.8,315.9" stroke="#e2ddc6" stroke-width="2.39" fill="none" stroke-linecap="round" stroke-linejoin="round"/>
<path d="M853.7,330.8 L841.8,333.8" stroke="#e2ddc6" stroke-width="1.79" fill="none" stroke-linecap="round" stroke-linejoin="round"/>
<path d="M865.6,283.1 C868.1,287.1 877.6,299.0 880.5,307.0 C883.5,314.9 883.0,326.8 883.5,330.8" stroke="#e2ddc6" stroke-width="2.39" fill="none" stroke-linecap="round" stroke-linejoin="round"/>
<path d="M877.6,271.2 C881.0,274.2 894.0,281.1 898.4,289.1 C902.9,297.0 903.4,313.9 904.4,318.9" stroke="#e2ddc6" stroke-width="2.39" fill="none" stroke-linecap="round" stroke-linejoin="round"/>
<circle cx="939.3" cy="255.4" r="4.5" fill="#d9d9cf"/>
<circle cx="932.8" cy="287.9" r="6.5" fill="#d9d9cf"/>
<circle cx="977.0" cy="304.8" r="5.2" fill="#d9d9cf"/>
<circle cx="982.2" cy="251.5" r="3.9" fill="#d9d9cf"/>
<circle cx="1005.6" cy="271.0" r="4.5" fill="#d9d9cf"/>
<circle cx="895.1" cy="326.9" r="5.2" fill="#d9d9cf"/>
<circle cx="1026.4" cy="304.8" r="3.9" fill="#d9d9cf"/>
<circle cx="858.2" cy="260.8" r="5.4" fill="#dedb70"/><circle cx="858.2" cy="260.8" r="2.7" fill="#e6e040" opacity="0.6"/>
<circle cx="862.1" cy="284.6" r="5.7" fill="#dedb70"/><circle cx="862.1" cy="284.6" r="2.8" fill="#e6e040" opacity="0.6"/>
<circle cx="850.7" cy="305.5" r="6.6" fill="#dcdc9a"/><circle cx="850.7" cy="305.5" r="3.3" fill="#e6e040" opacity="0.6"/>
<circle cx="895.4" cy="326.3" r="5.4" fill="#d9d9cf"/><circle cx="895.4" cy="326.3" r="2.7" fill="#e6e040" opacity="0.6"/>
</g>
<path d="M573.0,445.7 C480.1,437.4 376.8,464.7 327.2,532.3" stroke="#0ba14b" stroke-width="2.0" fill="none"/><path d="M319.5,542.8 L322.0,528.5 L332.4,536.2Z" fill="#0ba14b"/>
<path d="M574.8,477.8 C540.1,467.0 499.4,477.6 486.1,497.5" stroke="#0ba14b" stroke-width="2.0" fill="none"/><path d="M478.9,508.3 L480.7,493.9 L491.5,501.1Z" fill="#0ba14b"/>
<path d="M458.1,570.3 C410.4,664.0 498.1,749.8 570.0,767.1" stroke="#0ba14b" stroke-width="2.0" fill="none"/><path d="M583.6,770.4 L568.4,773.9 L571.6,760.3Z" fill="#0ba14b"/>
<path d="M307.6,664.0 C305.2,690.9 335.0,696.9 341.4,698.2" stroke="#0ba14b" stroke-width="2.0" fill="none"/><path d="M354.1,700.7 L340.1,704.5 L342.6,691.8Z" fill="#0ba14b"/>
<path d="M450.7,773.3 C474.0,828.3 536.2,846.9 577.5,840.9" stroke="#0ba14b" stroke-width="2.0" fill="none"/><path d="M591.4,838.9 L578.6,847.8 L576.5,834.0Z" fill="#0ba14b"/>
<path d="M1001.9,539.9 C943.1,458.0 831.8,441.6 752.1,447.8" stroke="#0ba14b" stroke-width="2.0" fill="none"/><path d="M738.1,448.9 L751.5,440.8 L752.6,454.8Z" fill="#0ba14b"/>
<path d="M768.3,834.8 C877.1,829.4 974.9,759.1 1013.4,673.1" stroke="#0ba14b" stroke-width="2.0" fill="none"/><path d="M1019.1,660.3 L1019.8,675.9 L1007.0,670.2Z" fill="#0ba14b"/>
<path d="M685,781 L685,629" stroke="#0ba14b" stroke-width="2.0"/><path d="M685,615 L692.3,630 L677.7,630Z" fill="#0ba14b"/>
<path d="M822.8,607.8 L822.8,621" stroke="#0ba14b" stroke-width="2.0"/><path d="M822.8,635 L830.3,620.5 L815.3,620.5Z" fill="#0ba14b"/>
<path d="M823.3,739 L823.3,802.4 L791,802.4" stroke="#0ba14b" stroke-width="2.0" fill="none"/><path d="M777.7,802.4 L792,795.4 L792,809.4Z" fill="#0ba14b"/>
<defs><clipPath id="cf"><rect x="0" y="1480" width="1308" height="182"/></clipPath></defs>
<g clip-path="url(#cf)">
<line x1="607.5" y1="1512.2" x2="641.6" y2="1527.3" stroke="#eeeeee" stroke-width="1"/>
<line x1="607.5" y1="1512.2" x2="564.1" y2="1534.9" stroke="#eeeeee" stroke-width="1"/>
<line x1="564.1" y1="1534.9" x2="570.2" y2="1568.7" stroke="#eeeeee" stroke-width="1"/>
<line x1="564.1" y1="1534.9" x2="647.9" y2="1585.4" stroke="#eeeeee" stroke-width="1"/>
<line x1="570.2" y1="1568.7" x2="557.8" y2="1587.1" stroke="#eeeeee" stroke-width="1"/>
<line x1="624.6" y1="1547.5" x2="634.7" y2="1585.4" stroke="#eeeeee" stroke-width="1"/>
<line x1="655.4" y1="1547.5" x2="647.9" y2="1585.4" stroke="#eeeeee" stroke-width="1"/>
<line x1="488.4" y1="1555.1" x2="532.3" y2="1563.7" stroke="#eeeeee" stroke-width="1"/>
<line x1="488.4" y1="1555.1" x2="469.5" y2="1525.3" stroke="#eeeeee" stroke-width="1"/>
<line x1="469.5" y1="1525.3" x2="454.9" y2="1536.7" stroke="#eeeeee" stroke-width="1"/>
<line x1="488.4" y1="1555.1" x2="486.4" y2="1625.5" stroke="#eeeeee" stroke-width="1"/>
<line x1="488.4" y1="1555.1" x2="543.2" y2="1601.8" stroke="#eeeeee" stroke-width="1"/>
<line x1="593.1" y1="1590.2" x2="627.7" y2="1626.2" stroke="#eeeeee" stroke-width="1"/>
<line x1="467.5" y1="1587.9" x2="445.3" y2="1603.5" stroke="#eeeeee" stroke-width="1"/>
<line x1="405.2" y1="1592.2" x2="445.3" y2="1603.5" stroke="#eeeeee" stroke-width="1"/>
<line x1="445.3" y1="1603.5" x2="442.3" y2="1642.6" stroke="#eeeeee" stroke-width="1"/>
<line x1="414.5" y1="1636.3" x2="401.9" y2="1633.3" stroke="#eeeeee" stroke-width="1"/>
<line x1="674.6" y1="1512.2" x2="718.8" y2="1534.9" stroke="#eeeeee" stroke-width="1"/>
<line x1="718.8" y1="1534.9" x2="712.5" y2="1568.7" stroke="#eeeeee" stroke-width="1"/>
<line x1="712.5" y1="1568.7" x2="725.1" y2="1587.1" stroke="#eeeeee" stroke-width="1"/>
<line x1="794.5" y1="1555.1" x2="750" y2="1563.7" stroke="#eeeeee" stroke-width="1"/>
<line x1="794.5" y1="1555.1" x2="812.6" y2="1525.3" stroke="#eeeeee" stroke-width="1"/>
<line x1="812.6" y1="1525.3" x2="827.8" y2="1536.7" stroke="#eeeeee" stroke-width="1"/>
<line x1="794.5" y1="1555.1" x2="796.2" y2="1625.5" stroke="#eeeeee" stroke-width="1"/>
<line x1="794.5" y1="1555.1" x2="739.5" y2="1601.8" stroke="#eeeeee" stroke-width="1"/>
<line x1="689.8" y1="1590.2" x2="662" y2="1620" stroke="#eeeeee" stroke-width="1"/>
<line x1="815.1" y1="1587.9" x2="837.9" y2="1603.5" stroke="#eeeeee" stroke-width="1"/>
<line x1="877.5" y1="1592.2" x2="837.9" y2="1603.5" stroke="#eeeeee" stroke-width="1"/>
<line x1="837.9" y1="1603.5" x2="840.4" y2="1642.6" stroke="#eeeeee" stroke-width="1"/>
<line x1="877.5" y1="1592.2" x2="952.1" y2="1620.4" stroke="#eeeeee" stroke-width="1"/>
<line x1="674.6" y1="1512.2" x2="640" y2="1530" stroke="#eeeeee" stroke-width="1"/>
<line x1="718.8" y1="1534.9" x2="600" y2="1610" stroke="#eeeeee" stroke-width="1"/>
<circle cx="607.5" cy="1512.2" r="10" fill="#d0d0d0" opacity="0.16"/>
<circle cx="641.6" cy="1527.3" r="9" fill="#f6b9a5" opacity="0.16"/>
<circle cx="564.1" cy="1534.9" r="9.5" fill="#fde8b6" opacity="0.16"/>
<circle cx="624.6" cy="1547.5" r="7.5" fill="#b5dce4" opacity="0.16"/>
<circle cx="655.4" cy="1547.5" r="7.5" fill="#b5dce4" opacity="0.16"/>
<circle cx="488.4" cy="1555.1" r="9.5" fill="#b5dce4" opacity="0.16"/>
<circle cx="532.3" cy="1563.7" r="7.5" fill="#d0d0d0" opacity="0.16"/>
<circle cx="469.5" cy="1525.3" r="4" fill="#f6b9a5" opacity="0.16"/>
<circle cx="454.9" cy="1536.7" r="5" fill="#b5dce4" opacity="0.16"/>
<circle cx="570.2" cy="1568.7" r="4" fill="#f6b9a5" opacity="0.16"/>
<circle cx="557.8" cy="1587.1" r="5.5" fill="#d0d0d0" opacity="0.16"/>
<circle cx="593.1" cy="1590.2" r="6.3" fill="#f6b9a5" opacity="0.16"/>
<circle cx="634.7" cy="1585.4" r="6.3" fill="#fde8b6" opacity="0.16"/>
<circle cx="647.9" cy="1585.4" r="6.3" fill="#fde8b6" opacity="0.16"/>
<circle cx="576" cy="1616.1" r="7.5" fill="#b5dce4" opacity="0.16"/>
<circle cx="506.6" cy="1603.5" r="5.5" fill="#d0d0d0" opacity="0.16"/>
<circle cx="467.5" cy="1587.9" r="5.5" fill="#f6b9a5" opacity="0.16"/>
<circle cx="405.2" cy="1592.2" r="7.5" fill="#f6b9a5" opacity="0.16"/>
<circle cx="445.3" cy="1603.5" r="4" fill="#fde8b6" opacity="0.16"/>
<circle cx="411.5" cy="1612.4" r="4" fill="#f6b9a5" opacity="0.16"/>
<circle cx="627.7" cy="1626.2" r="7.5" fill="#d0d0d0" opacity="0.16"/>
<circle cx="655.4" cy="1626.2" r="7.5" fill="#d0d0d0" opacity="0.16"/>
<circle cx="523" cy="1618.2" r="4.5" fill="#b5dce4" opacity="0.16"/>
<circle cx="414.5" cy="1636.3" r="7.5" fill="#d0d0d0" opacity="0.16"/>
<circle cx="344.4" cy="1611.1" r="6.3" fill="#f6b9a5" opacity="0.16"/>
<circle cx="674.6" cy="1512.2" r="10" fill="#d0d0d0" opacity="0.16"/>
<circle cx="718.8" cy="1534.9" r="9.5" fill="#fde8b6" opacity="0.16"/>
<circle cx="794.5" cy="1555.1" r="9.5" fill="#b5dce4" opacity="0.16"/>
<circle cx="750" cy="1563.7" r="7.5" fill="#d0d0d0" opacity="0.16"/>
<circle cx="812.6" cy="1525.3" r="4" fill="#f6b9a5" opacity="0.16"/>
<circle cx="827.8" cy="1536.7" r="5" fill="#b5dce4" opacity="0.16"/>
<circle cx="712.5" cy="1568.7" r="4" fill="#f6b9a5" opacity="0.16"/>
<circle cx="725.1" cy="1587.1" r="5.5" fill="#d0d0d0" opacity="0.16"/>
<circle cx="689.8" cy="1590.2" r="6.3" fill="#f6b9a5" opacity="0.16"/>
<circle cx="706.2" cy="1616.1" r="7.5" fill="#b5dce4" opacity="0.16"/>
<circle cx="776" cy="1603.5" r="5.5" fill="#d0d0d0" opacity="0.16"/>
<circle cx="815.1" cy="1587.9" r="5.5" fill="#f6b9a5" opacity="0.16"/>
<circle cx="877.5" cy="1592.2" r="7.5" fill="#f6b9a5" opacity="0.16"/>
<circle cx="837.9" cy="1603.5" r="4" fill="#fde8b6" opacity="0.16"/>
<circle cx="871.4" cy="1612.4" r="4" fill="#f6b9a5" opacity="0.16"/>
<circle cx="759.6" cy="1618.2" r="4.5" fill="#b5dce4" opacity="0.16"/>
<circle cx="868.1" cy="1636.3" r="7.5" fill="#d0d0d0" opacity="0.16"/>
<circle cx="762.9" cy="1643.9" r="6.3" fill="#f6b9a5" opacity="0.16"/>
<circle cx="938.8" cy="1611.1" r="6.3" fill="#f6b9a5" opacity="0.16"/>
<circle cx="796.2" cy="1633.8" r="6.3" fill="#fde8b6" opacity="0.16"/>
<circle cx="1270.6" cy="1527.3" r="9" fill="#f6b9a5" opacity="0.16"/>
<circle cx="1289" cy="1547.5" r="7.5" fill="#b5dce4" opacity="0.16"/>
<circle cx="1278.2" cy="1585.4" r="6.3" fill="#fde8b6" opacity="0.16"/>
<circle cx="1285.8" cy="1626.2" r="7.5" fill="#d0d0d0" opacity="0.16"/>
<circle cx="999.4" cy="1613.6" r="11" fill="#fde8b6" opacity="0.16"/>
<circle cx="1088.5" cy="1628.2" r="7" fill="#d0d0d0" opacity="0.16"/>
<circle cx="1138.4" cy="1643.9" r="7" fill="#d0d0d0" opacity="0.16"/>
<circle cx="1161.6" cy="1653.5" r="5" fill="#f6b9a5" opacity="0.16"/>
<circle cx="1231" cy="1648.9" r="6" fill="#d0d0d0" opacity="0.16"/>
<circle cx="1212.6" cy="1654" r="4" fill="#d0d0d0" opacity="0.16"/>
<circle cx="51.7" cy="1647.7" r="6" fill="#d0d0d0" opacity="0.16"/>
<circle cx="69.4" cy="1653.5" r="4" fill="#d0d0d0" opacity="0.16"/>
<circle cx="121" cy="1654" r="5" fill="#f6b9a5" opacity="0.16"/>
<circle cx="145" cy="1643.9" r="7" fill="#d0d0d0" opacity="0.16"/>
<circle cx="194.2" cy="1627.5" r="7" fill="#d0d0d0" opacity="0.16"/>
<circle cx="282.5" cy="1613.6" r="11" fill="#fde8b6" opacity="0.16"/>
<line x1="53.5" y1="1537.4" x2="80.7" y2="1573.2" stroke="#8f8f8f" stroke-width="1.1"/>
<line x1="80.7" y1="1573.2" x2="98.9" y2="1539.7" stroke="#8f8f8f" stroke-width="1.1"/>
<line x1="53.5" y1="1537.4" x2="29" y2="1591" stroke="#8f8f8f" stroke-width="1.1"/>
<line x1="29" y1="1591" x2="83.2" y2="1618.7" stroke="#8f8f8f" stroke-width="1.1"/>
<line x1="83.2" y1="1618.7" x2="128.2" y2="1604" stroke="#8f8f8f" stroke-width="1.1"/>
<line x1="83.2" y1="1618.7" x2="100.4" y2="1654" stroke="#8f8f8f" stroke-width="1.1"/>
<line x1="130.2" y1="1550" x2="153.9" y2="1518.5" stroke="#8f8f8f" stroke-width="1.1"/>
<line x1="153.9" y1="1518.5" x2="184.2" y2="1533.4" stroke="#8f8f8f" stroke-width="1.1"/>
<line x1="238.4" y1="1620" x2="219.5" y2="1647.7" stroke="#8f8f8f" stroke-width="1.1"/>
<line x1="237" y1="1554.3" x2="261.9" y2="1599.7" stroke="#8f8f8f" stroke-width="1.1"/>
<line x1="261.9" y1="1599.7" x2="300" y2="1578" stroke="#8f8f8f" stroke-width="1.1"/>
<line x1="261.9" y1="1599.7" x2="330" y2="1620" stroke="#8f8f8f" stroke-width="1.1"/>
<line x1="261.9" y1="1599.7" x2="305.2" y2="1652.7" stroke="#8f8f8f" stroke-width="1.1"/>
<line x1="238.4" y1="1620" x2="219.5" y2="1647.7" stroke="#8f8f8f" stroke-width="1.1"/>
<line x1="219.5" y1="1647.7" x2="245.2" y2="1647.7" stroke="#8f8f8f" stroke-width="1.1"/>
<line x1="245.2" y1="1647.7" x2="256.8" y2="1638.8" stroke="#8f8f8f" stroke-width="1.1"/>
<line x1="245.2" y1="1647.7" x2="256.8" y2="1658.5" stroke="#8f8f8f" stroke-width="1.1"/>
<line x1="12.6" y1="1591" x2="16.4" y2="1643.9" stroke="#8f8f8f" stroke-width="1.1"/>
<line x1="29" y1="1591" x2="24" y2="1643.9" stroke="#8f8f8f" stroke-width="1.1"/>
<line x1="330" y1="1620" x2="376.7" y2="1610.3" stroke="#8f8f8f" stroke-width="1.1"/>
<line x1="376.7" y1="1610.3" x2="365.3" y2="1640.9" stroke="#8f8f8f" stroke-width="1.1"/>
<line x1="401.9" y1="1633.3" x2="386.8" y2="1656" stroke="#8f8f8f" stroke-width="1.1"/>
<line x1="386.8" y1="1656" x2="418.3" y2="1656" stroke="#8f8f8f" stroke-width="1.1"/>
<line x1="442.3" y1="1642.6" x2="466.2" y2="1654" stroke="#8f8f8f" stroke-width="1.1"/>
<line x1="466.2" y1="1654" x2="486.4" y2="1625.5" stroke="#8f8f8f" stroke-width="1.1"/>
<line x1="486.4" y1="1625.5" x2="543.2" y2="1601.8" stroke="#8f8f8f" stroke-width="1.1"/>
<line x1="543.2" y1="1601.8" x2="599.2" y2="1635.8" stroke="#8f8f8f" stroke-width="1.1"/>
<line x1="466.2" y1="1654" x2="521.2" y2="1657.8" stroke="#8f8f8f" stroke-width="1.1"/>
<line x1="521.2" y1="1657.8" x2="551.2" y2="1640.6" stroke="#8f8f8f" stroke-width="1.1"/>
<line x1="684" y1="1635.8" x2="739.5" y2="1601.8" stroke="#8f8f8f" stroke-width="1.1"/>
<line x1="739.5" y1="1601.8" x2="796.2" y2="1625.5" stroke="#8f8f8f" stroke-width="1.1"/>
<line x1="796.2" y1="1625.5" x2="816.4" y2="1654" stroke="#8f8f8f" stroke-width="1.1"/>
<line x1="816.4" y1="1654" x2="840.4" y2="1642.6" stroke="#8f8f8f" stroke-width="1.1"/>
<line x1="762.2" y1="1657.8" x2="816.4" y2="1654" stroke="#8f8f8f" stroke-width="1.1"/>
<line x1="731.9" y1="1640.6" x2="762.2" y2="1657.8" stroke="#8f8f8f" stroke-width="1.1"/>
<line x1="906" y1="1610.3" x2="952.1" y2="1620.4" stroke="#8f8f8f" stroke-width="1.1"/>
<line x1="952.1" y1="1620.4" x2="981.6" y2="1578.3" stroke="#8f8f8f" stroke-width="1.1"/>
<line x1="906" y1="1610.3" x2="917.3" y2="1640.9" stroke="#8f8f8f" stroke-width="1.1"/>
<line x1="880.7" y1="1633.3" x2="895.4" y2="1656" stroke="#8f8f8f" stroke-width="1.1"/>
<line x1="864.3" y1="1656" x2="895.4" y2="1656" stroke="#8f8f8f" stroke-width="1.1"/>
<line x1="981.6" y1="1578.3" x2="1021.4" y2="1599.7" stroke="#8f8f8f" stroke-width="1.1"/>
<line x1="1021.4" y1="1599.7" x2="1045.6" y2="1554.3" stroke="#8f8f8f" stroke-width="1.1"/>
<line x1="1045.6" y1="1554.3" x2="1083.4" y2="1590.9" stroke="#8f8f8f" stroke-width="1.1"/>
<line x1="1021.4" y1="1599.7" x2="1083.4" y2="1590.9" stroke="#8f8f8f" stroke-width="1.1"/>
<line x1="1083.4" y1="1590.9" x2="1152.8" y2="1550" stroke="#8f8f8f" stroke-width="1.1"/>
<line x1="1152.8" y1="1550" x2="1128.9" y2="1518.5" stroke="#8f8f8f" stroke-width="1.1"/>
<line x1="1128.9" y1="1518.5" x2="1098.6" y2="1533.4" stroke="#8f8f8f" stroke-width="1.1"/>
<line x1="1083.4" y1="1590.9" x2="1154.6" y2="1604" stroke="#8f8f8f" stroke-width="1.1"/>
<line x1="1083.4" y1="1590.9" x2="1063.8" y2="1648.2" stroke="#8f8f8f" stroke-width="1.1"/>
<line x1="1083.4" y1="1590.9" x2="1123.8" y2="1661.5" stroke="#8f8f8f" stroke-width="1.1"/>
<line x1="1154.6" y1="1604" x2="1199.5" y2="1618.7" stroke="#8f8f8f" stroke-width="1.1"/>
<line x1="1199.5" y1="1618.7" x2="1254.2" y2="1591" stroke="#8f8f8f" stroke-width="1.1"/>
<line x1="1254.2" y1="1591" x2="1229.5" y2="1537.4" stroke="#8f8f8f" stroke-width="1.1"/>
<line x1="1229.5" y1="1537.4" x2="1202" y2="1573.2" stroke="#8f8f8f" stroke-width="1.1"/>
<line x1="1202" y1="1573.2" x2="1184.4" y2="1539.7" stroke="#8f8f8f" stroke-width="1.1"/>
<line x1="1254.2" y1="1591" x2="1258" y2="1643.9" stroke="#8f8f8f" stroke-width="1.1"/>
<line x1="1199.5" y1="1618.7" x2="1182.3" y2="1654" stroke="#8f8f8f" stroke-width="1.1"/>
<line x1="1044.3" y1="1620.4" x2="1063.8" y2="1648.2" stroke="#8f8f8f" stroke-width="1.1"/>
<line x1="1037.8" y1="1648.2" x2="1063.8" y2="1648.2" stroke="#8f8f8f" stroke-width="1.1"/>
<line x1="1037.8" y1="1648.2" x2="1025.9" y2="1638.8" stroke="#8f8f8f" stroke-width="1.1"/>
<line x1="1037.8" y1="1648.2" x2="1025.9" y2="1658.5" stroke="#8f8f8f" stroke-width="1.1"/>
<line x1="952.1" y1="1620.4" x2="1021.4" y2="1599.7" stroke="#8f8f8f" stroke-width="1.1"/>
<line x1="12.6" y1="1591" x2="5" y2="1575" stroke="#8f8f8f" stroke-width="1.1"/>
<line x1="53.5" y1="1537.4" x2="30" y2="1590" stroke="#8f8f8f" stroke-width="1.1"/>
<line x1="128.2" y1="1604" x2="165" y2="1662" stroke="#8f8f8f" stroke-width="1.1"/>
<line x1="128.2" y1="1604" x2="195" y2="1590" stroke="#8f8f8f" stroke-width="1.1"/>
<line x1="190" y1="1600" x2="162" y2="1662" stroke="#8f8f8f" stroke-width="1.1"/>
<line x1="205" y1="1600" x2="219.5" y2="1647.7" stroke="#8f8f8f" stroke-width="1.1"/>
<line x1="215" y1="1572" x2="261.9" y2="1599.7" stroke="#8f8f8f" stroke-width="1.1"/>
<line x1="130.2" y1="1550" x2="155" y2="1570" stroke="#8f8f8f" stroke-width="1.1"/>
<line x1="466.2" y1="1654" x2="455" y2="1662" stroke="#8f8f8f" stroke-width="1.1"/>
<line x1="599.2" y1="1635.8" x2="590" y2="1662" stroke="#8f8f8f" stroke-width="1.1"/>
<line x1="684" y1="1635.8" x2="695" y2="1662" stroke="#8f8f8f" stroke-width="1.1"/>
<line x1="952.1" y1="1620.4" x2="945" y2="1662" stroke="#8f8f8f" stroke-width="1.1"/>
<line x1="1021.4" y1="1599.7" x2="982" y2="1645" stroke="#8f8f8f" stroke-width="1.1"/>
<line x1="1154.6" y1="1604" x2="1128" y2="1662" stroke="#8f8f8f" stroke-width="1.1"/>
<line x1="1258" y1="1643.9" x2="1245" y2="1662" stroke="#8f8f8f" stroke-width="1.1"/>
<line x1="365.3" y1="1640.9" x2="335" y2="1645" stroke="#8f8f8f" stroke-width="1.1"/>
<circle cx="53.5" cy="1537.4" r="14.4" fill="#b5dce4"/><path d="M53.5,1523.0 A14.4,14.4 0 0 1 53.5,1551.8000000000002Z" fill="#a8ccd6"/>
<circle cx="98.9" cy="1539.7" r="5.8" fill="#b5dce4"/><path d="M98.9,1533.9 A5.8,5.8 0 0 1 98.9,1545.5Z" fill="#a8ccd6"/>
<circle cx="80.7" cy="1573.2" r="9.3" fill="#fde8b6"/><path d="M80.7,1563.9 A9.3,9.3 0 0 1 80.7,1582.5Z" fill="#f8dda2"/>
<circle cx="12.6" cy="1591" r="11.9" fill="#d0d0d0"/><path d="M12.6,1579.1 A11.9,11.9 0 0 1 12.6,1602.9Z" fill="#bcbcbc"/>
<circle cx="29" cy="1591" r="11.9" fill="#d0d0d0"/><path d="M29,1579.1 A11.9,11.9 0 0 1 29,1602.9Z" fill="#bcbcbc"/>
<circle cx="83.2" cy="1618.7" r="7.6" fill="#b5dce4"/><path d="M83.2,1611.1000000000001 A7.6,7.6 0 0 1 83.2,1626.3Z" fill="#a8ccd6"/>
<circle cx="128.2" cy="1604" r="13.1" fill="#f6b9a5"/><path d="M128.2,1590.9 A13.1,13.1 0 0 1 128.2,1617.1Z" fill="#e9a88d"/>
<circle cx="130.2" cy="1550" r="11.9" fill="#f6b9a5"/><path d="M130.2,1538.1 A11.9,11.9 0 0 1 130.2,1561.9Z" fill="#e9a88d"/>
<circle cx="153.9" cy="1518.5" r="9" fill="#fde8b6"/><path d="M153.9,1509.5 A9,9 0 0 1 153.9,1527.5Z" fill="#f8dda2"/>
<circle cx="184.2" cy="1533.4" r="5.5" fill="#b5dce4"/><path d="M184.2,1527.9 A5.5,5.5 0 0 1 184.2,1538.9Z" fill="#a8ccd6"/>
<circle cx="237" cy="1554.3" r="8" fill="#d0d0d0"/><path d="M237,1546.3 A8,8 0 0 1 237,1562.3Z" fill="#bcbcbc"/>
<circle cx="261.9" cy="1599.7" r="9.3" fill="#f6b9a5"/><path d="M261.9,1590.4 A9.3,9.3 0 0 1 261.9,1609.0Z" fill="#e9a88d"/>
<circle cx="238.4" cy="1620" r="7.6" fill="#b5dce4"/><path d="M238.4,1612.4 A7.6,7.6 0 0 1 238.4,1627.6Z" fill="#a8ccd6"/>
<circle cx="100.4" cy="1654" r="13.1" fill="#f6b9a5"/><path d="M100.4,1640.9 A13.1,13.1 0 0 1 100.4,1667.1Z" fill="#e9a88d"/>
<circle cx="16.4" cy="1643.9" r="8" fill="#b5dce4"/><path d="M16.4,1635.9 A8,8 0 0 1 16.4,1651.9Z" fill="#a8ccd6"/>
<circle cx="24" cy="1643.9" r="8" fill="#b5dce4"/><path d="M24,1635.9 A8,8 0 0 1 24,1651.9Z" fill="#a8ccd6"/>
<circle cx="219.5" cy="1647.7" r="6.8" fill="#f6b9a5"/><path d="M219.5,1640.9 A6.8,6.8 0 0 1 219.5,1654.5Z" fill="#e9a88d"/>
<circle cx="245.2" cy="1647.7" r="4.5" fill="#d0d0d0"/><path d="M245.2,1643.2 A4.5,4.5 0 0 1 245.2,1652.2Z" fill="#bcbcbc"/>
<circle cx="256.8" cy="1638.8" r="3.8" fill="#fde8b6"/><path d="M256.8,1635.0 A3.8,3.8 0 0 1 256.8,1642.6Z" fill="#f8dda2"/>
<circle cx="256.8" cy="1658.5" r="3.8" fill="#b5dce4"/><path d="M256.8,1654.7 A3.8,3.8 0 0 1 256.8,1662.3Z" fill="#a8ccd6"/>
<circle cx="305.2" cy="1652.7" r="10" fill="#f6b9a5"/><path d="M305.2,1642.7 A10,10 0 0 1 305.2,1662.7Z" fill="#e9a88d"/>
<circle cx="330" cy="1620" r="10" fill="#b5dce4"/><path d="M330,1610 A10,10 0 0 1 330,1630Z" fill="#a8ccd6"/>
<circle cx="300" cy="1578" r="6" fill="#d0d0d0"/><path d="M300,1572 A6,6 0 0 1 300,1584Z" fill="#bcbcbc"/>
<circle cx="376.7" cy="1610.3" r="10" fill="#f6b9a5"/><path d="M376.7,1600.3 A10,10 0 0 1 376.7,1620.3Z" fill="#e9a88d"/>
<circle cx="365.3" cy="1640.9" r="6" fill="#d0d0d0"/><path d="M365.3,1634.9 A6,6 0 0 1 365.3,1646.9Z" fill="#bcbcbc"/>
<circle cx="401.9" cy="1633.3" r="6" fill="#fde8b6"/><path d="M401.9,1627.3 A6,6 0 0 1 401.9,1639.3Z" fill="#f8dda2"/>
<circle cx="386.8" cy="1656" r="6" fill="#b5dce4"/><path d="M386.8,1650 A6,6 0 0 1 386.8,1662Z" fill="#a8ccd6"/>
<circle cx="418.3" cy="1656" r="6" fill="#f6b9a5"/><path d="M418.3,1650 A6,6 0 0 1 418.3,1662Z" fill="#e9a88d"/>
<circle cx="442.3" cy="1642.6" r="6" fill="#d0d0d0"/><path d="M442.3,1636.6 A6,6 0 0 1 442.3,1648.6Z" fill="#bcbcbc"/>
<circle cx="466.2" cy="1654" r="9.6" fill="#b5dce4"/><path d="M466.2,1644.4 A9.6,9.6 0 0 1 466.2,1663.6Z" fill="#a8ccd6"/>
<circle cx="486.4" cy="1625.5" r="6.8" fill="#f6b9a5"/><path d="M486.4,1618.7 A6.8,6.8 0 0 1 486.4,1632.3Z" fill="#e9a88d"/>
<circle cx="543.2" cy="1601.8" r="12" fill="#fde8b6"/><path d="M543.2,1589.8 A12,12 0 0 1 543.2,1613.8Z" fill="#f8dda2"/>
<circle cx="599.2" cy="1635.8" r="9.6" fill="#b5dce4"/><path d="M599.2,1626.2 A9.6,9.6 0 0 1 599.2,1645.3999999999999Z" fill="#a8ccd6"/>
<circle cx="551.2" cy="1640.6" r="8.6" fill="#f6b9a5"/><path d="M551.2,1632.0 A8.6,8.6 0 0 1 551.2,1649.1999999999998Z" fill="#e9a88d"/>
<circle cx="521.2" cy="1657.8" r="10.6" fill="#fde8b6"/><path d="M521.2,1647.2 A10.6,10.6 0 0 1 521.2,1668.3999999999999Z" fill="#f8dda2"/>
<circle cx="641.6" cy="1657.8" r="13.9" fill="#f6b9a5"/><path d="M641.6,1643.8999999999999 A13.9,13.9 0 0 1 641.6,1671.7Z" fill="#e9a88d"/>
<circle cx="684" cy="1635.8" r="9.3" fill="#b5dce4"/><path d="M684,1626.5 A9.3,9.3 0 0 1 684,1645.1Z" fill="#a8ccd6"/>
<circle cx="739.5" cy="1601.8" r="12" fill="#fde8b6"/><path d="M739.5,1589.8 A12,12 0 0 1 739.5,1613.8Z" fill="#f8dda2"/>
<circle cx="796.2" cy="1625.5" r="6.8" fill="#f6b9a5"/><path d="M796.2,1618.7 A6.8,6.8 0 0 1 796.2,1632.3Z" fill="#e9a88d"/>
<circle cx="731.9" cy="1640.6" r="8.6" fill="#f6b9a5"/><path d="M731.9,1632.0 A8.6,8.6 0 0 1 731.9,1649.1999999999998Z" fill="#e9a88d"/>
<circle cx="762.2" cy="1657.8" r="10.6" fill="#fde8b6"/><path d="M762.2,1647.2 A10.6,10.6 0 0 1 762.2,1668.3999999999999Z" fill="#f8dda2"/>
<circle cx="816.4" cy="1654" r="9.6" fill="#b5dce4"/><path d="M816.4,1644.4 A9.6,9.6 0 0 1 816.4,1663.6Z" fill="#a8ccd6"/>
<circle cx="840.4" cy="1642.6" r="6" fill="#d0d0d0"/><path d="M840.4,1636.6 A6,6 0 0 1 840.4,1648.6Z" fill="#bcbcbc"/>
<circle cx="906" cy="1610.3" r="10" fill="#f6b9a5"/><path d="M906,1600.3 A10,10 0 0 1 906,1620.3Z" fill="#e9a88d"/>
<circle cx="880.7" cy="1633.3" r="6" fill="#fde8b6"/><path d="M880.7,1627.3 A6,6 0 0 1 880.7,1639.3Z" fill="#f8dda2"/>
<circle cx="917.3" cy="1640.9" r="6" fill="#d0d0d0"/><path d="M917.3,1634.9 A6,6 0 0 1 917.3,1646.9Z" fill="#bcbcbc"/>
<circle cx="864.3" cy="1656" r="6" fill="#f6b9a5"/><path d="M864.3,1650 A6,6 0 0 1 864.3,1662Z" fill="#e9a88d"/>
<circle cx="895.4" cy="1656" r="6" fill="#b5dce4"/><path d="M895.4,1650 A6,6 0 0 1 895.4,1662Z" fill="#a8ccd6"/>
<circle cx="952.1" cy="1620.4" r="11.4" fill="#b5dce4"/><path d="M952.1,1609.0 A11.4,11.4 0 0 1 952.1,1631.8000000000002Z" fill="#a8ccd6"/>
<circle cx="981.6" cy="1578.3" r="7.6" fill="#d0d0d0"/><path d="M981.6,1570.7 A7.6,7.6 0 0 1 981.6,1585.8999999999999Z" fill="#bcbcbc"/>
<circle cx="977.9" cy="1653.5" r="10" fill="#f6b9a5"/><path d="M977.9,1643.5 A10,10 0 0 1 977.9,1663.5Z" fill="#e9a88d"/>
<circle cx="1021.4" cy="1599.7" r="9.3" fill="#f6b9a5"/><path d="M1021.4,1590.4 A9.3,9.3 0 0 1 1021.4,1609.0Z" fill="#e9a88d"/>
<circle cx="1045.6" cy="1554.3" r="8" fill="#d0d0d0"/><path d="M1045.6,1546.3 A8,8 0 0 1 1045.6,1562.3Z" fill="#bcbcbc"/>
<circle cx="1083.4" cy="1590.9" r="8.3" fill="#fde8b6"/><path d="M1083.4,1582.6000000000001 A8.3,8.3 0 0 1 1083.4,1599.2Z" fill="#f8dda2"/>
<circle cx="1152.8" cy="1550" r="11.9" fill="#f6b9a5"/><path d="M1152.8,1538.1 A11.9,11.9 0 0 1 1152.8,1561.9Z" fill="#e9a88d"/>
<circle cx="1128.9" cy="1518.5" r="9" fill="#fde8b6"/><path d="M1128.9,1509.5 A9,9 0 0 1 1128.9,1527.5Z" fill="#f8dda2"/>
<circle cx="1098.6" cy="1533.4" r="5.5" fill="#b5dce4"/><path d="M1098.6,1527.9 A5.5,5.5 0 0 1 1098.6,1538.9Z" fill="#a8ccd6"/>
<circle cx="1154.6" cy="1604" r="13.1" fill="#f6b9a5"/><path d="M1154.6,1590.9 A13.1,13.1 0 0 1 1154.6,1617.1Z" fill="#e9a88d"/>
<circle cx="1199.5" cy="1618.7" r="7.6" fill="#b5dce4"/><path d="M1199.5,1611.1000000000001 A7.6,7.6 0 0 1 1199.5,1626.3Z" fill="#a8ccd6"/>
<circle cx="1254.2" cy="1591" r="11.9" fill="#d0d0d0"/><path d="M1254.2,1579.1 A11.9,11.9 0 0 1 1254.2,1602.9Z" fill="#bcbcbc"/>
<circle cx="1229.5" cy="1537.4" r="14.4" fill="#b5dce4"/><path d="M1229.5,1523.0 A14.4,14.4 0 0 1 1229.5,1551.8000000000002Z" fill="#a8ccd6"/>
<circle cx="1184.4" cy="1539.7" r="5.8" fill="#b5dce4"/><path d="M1184.4,1533.9 A5.8,5.8 0 0 1 1184.4,1545.5Z" fill="#a8ccd6"/>
<circle cx="1202" cy="1573.2" r="9.3" fill="#fde8b6"/><path d="M1202,1563.9 A9.3,9.3 0 0 1 1202,1582.5Z" fill="#f8dda2"/>
<circle cx="1044.3" cy="1620.4" r="7.6" fill="#b5dce4"/><path d="M1044.3,1612.8000000000002 A7.6,7.6 0 0 1 1044.3,1628.0Z" fill="#a8ccd6"/>
<circle cx="1063.8" cy="1648.2" r="6.8" fill="#f6b9a5"/><path d="M1063.8,1641.4 A6.8,6.8 0 0 1 1063.8,1655.0Z" fill="#e9a88d"/>
<circle cx="1037.8" cy="1648.2" r="4.5" fill="#d0d0d0"/><path d="M1037.8,1643.7 A4.5,4.5 0 0 1 1037.8,1652.7Z" fill="#bcbcbc"/>
<circle cx="1025.9" cy="1638.8" r="3.8" fill="#fde8b6"/><path d="M1025.9,1635.0 A3.8,3.8 0 0 1 1025.9,1642.6Z" fill="#f8dda2"/>
<circle cx="1025.9" cy="1658.5" r="3.8" fill="#b5dce4"/><path d="M1025.9,1654.7 A3.8,3.8 0 0 1 1025.9,1662.3Z" fill="#a8ccd6"/>
<circle cx="1182.3" cy="1654" r="13.1" fill="#f6b9a5"/><path d="M1182.3,1640.9 A13.1,13.1 0 0 1 1182.3,1667.1Z" fill="#e9a88d"/>
<circle cx="1258" cy="1643.9" r="8" fill="#b5dce4"/><path d="M1258,1635.9 A8,8 0 0 1 1258,1651.9Z" fill="#a8ccd6"/>
<circle cx="1273.2" cy="1656.5" r="13.1" fill="#f6b9a5"/><path d="M1273.2,1643.4 A13.1,13.1 0 0 1 1273.2,1669.6Z" fill="#e9a88d"/>
<circle cx="1123.8" cy="1661.5" r="6" fill="#d0d0d0"/><path d="M1123.8,1655.5 A6,6 0 0 1 1123.8,1667.5Z" fill="#bcbcbc"/>
</g>
<defs><filter id="bsh" x="-20%" y="-20%" width="140%" height="140%"><feGaussianBlur stdDeviation="1.2"/></filter></defs>
<path d="M147,1606 Q190,1601.5 226,1604 Q224,1607.5 190,1608 Q160,1608 147,1606Z" fill="#8d8d8d" opacity="0.85" filter="url(#bsh)"/>
<line x1="237" y1="1554.3" x2="222" y2="1566" stroke="#8f8f8f" stroke-width="1.1"/>
<path d="M151.00,1565.30 C154.30,1564.62 162.28,1565.05 168.00,1564.90 C173.72,1564.75 182.50,1565.88 185.30,1564.40 C188.10,1562.92 184.63,1558.53 184.80,1556.00 C184.97,1553.47 184.93,1550.65 186.30,1549.20 C187.67,1547.75 189.88,1546.62 193.00,1547.30 C196.12,1547.98 201.08,1550.72 205.00,1553.30 C208.92,1555.88 213.45,1559.63 216.50,1562.80 C219.55,1565.97 222.02,1569.77 223.30,1572.30 C224.58,1574.83 224.32,1575.88 224.20,1578.00 C224.08,1580.12 224.13,1582.10 222.60,1585.00 C221.07,1587.90 218.57,1592.27 215.00,1595.40 C211.43,1598.53 205.62,1601.90 201.20,1603.80 C196.78,1605.70 191.17,1606.93 188.50,1606.80 C185.83,1606.67 185.65,1605.67 185.20,1603.00 C184.75,1600.33 188.67,1592.90 185.80,1590.80 C182.93,1588.70 173.72,1590.52 168.00,1590.40 C162.28,1590.28 154.78,1590.75 151.50,1590.10 C148.22,1589.45 148.85,1590.02 148.30,1586.50 C147.75,1582.98 147.75,1572.53 148.20,1569.00 C148.65,1565.47 147.70,1565.98 151.00,1565.30Z" fill="url(#badge)" stroke="#fff" stroke-width="2.2" stroke-linejoin="round" style="filter:drop-shadow(0 0 0.8px rgba(0,0,0,0.45))"/>
<circle cx="209.8" cy="1541.9" r="3.3" fill="#1e4aa6"/>
<circle cx="218" cy="1551.7" r="6" fill="#1d56b0"/>
<path d="M158.28,1572.95 L158.51,1573.17 L158.67,1573.48 L158.73,1573.86 L158.68,1574.27 L158.50,1574.69 L158.18,1575.06 L157.74,1575.34 L157.20,1575.50 L156.60,1575.51 L155.99,1575.34 L155.42,1574.98 L154.95,1574.46 L154.61,1573.80 L154.47,1573.03 L154.54,1572.22 L154.84,1571.42 L155.37,1570.70 L156.11,1570.13 L157.00,1569.77 L157.99,1569.65 L159.02,1569.81 L160.00,1570.26 L160.85,1570.98 L161.50,1571.92 L161.88,1573.05 L161.95,1574.27 L161.69,1575.50 L161.09,1576.65 L160.18,1577.63 L159.01,1578.34 L157.65,1578.73 L156.21,1578.75 L154.77,1578.37 L153.46,1577.60 L152.37,1576.48 L151.60,1575.08 L151.22,1573.50 L151.28,1571.83 L151.79,1570.20 L152.73,1568.73" fill="none" stroke="#fff" stroke-width="2.0" stroke-linecap="round"/>
<path d="M188.27,1601.40 L188.22,1601.18 L188.25,1600.92 L188.37,1600.67 L188.60,1600.46 L188.90,1600.32 L189.26,1600.29 L189.64,1600.38 L189.99,1600.61 L190.26,1600.96 L190.42,1601.40 L190.43,1601.90 L190.28,1602.40 L189.95,1602.85 L189.48,1603.19 L188.90,1603.37 L188.26,1603.36 L187.64,1603.14 L187.09,1602.71 L186.69,1602.12 L186.49,1601.40 L186.52,1600.63 L186.80,1599.88 L187.32,1599.23 L188.04,1598.76 L188.90,1598.54 L189.81,1598.59 L190.69,1598.94 L191.43,1599.56 L191.96,1600.41 L192.21,1601.40 L192.13,1602.45 L191.72,1603.45 L191.00,1604.29 L190.03,1604.89 L188.90,1605.15 L187.71,1605.05 L186.59,1604.58 L185.65,1603.76 L184.99,1602.67 L184.70,1601.40" fill="none" stroke="#fff" stroke-width="1.3" stroke-linecap="round"/>
<path d="M217.97,1552.00 L217.92,1551.86 L217.90,1551.69 L217.93,1551.51 L218.02,1551.33 L218.16,1551.17 L218.35,1551.04 L218.58,1550.96 L218.85,1550.93 L219.12,1550.98 L219.40,1551.10 L219.65,1551.30 L219.85,1551.56 L219.99,1551.88 L220.05,1552.25 L220.02,1552.63 L219.89,1553.01 L219.66,1553.36 L219.35,1553.66 L218.95,1553.88 L218.50,1554.01 L218.01,1554.03 L217.52,1553.93 L217.05,1553.70 L216.63,1553.36 L216.30,1552.91 L216.07,1552.38 L215.97,1551.80 L216.02,1551.19 L216.21,1550.60 L216.55,1550.05 L217.02,1549.59 L217.60,1549.24 L218.27,1549.03 L218.98,1548.98 L219.70,1549.11 L220.38,1549.41 L220.99,1549.87 L221.49,1550.48 L221.83,1551.20 L222.00,1552.00" fill="none" stroke="#fff" stroke-width="1.0" stroke-linecap="round"/>
</svg>
<div class="t" style="left:376.50px;top:377.69px;font-size:19.5px;line-height:19.5px;font-weight:400;color:#231f20;white-space:pre;transform:scaleX(0.915);transform-origin:0 0;">Blue green algae</div>
<div class="t" style="left:659.50px;top:351.49px;font-size:19.5px;line-height:19.5px;font-weight:400;color:#231f20;width:400.00px;text-align:justify;text-align-last:justify;transform:scaleX(0.91);transform-origin:0 0;">Roots of a leguminous plant with root</div>
<div class="t" style="left:660.00px;top:375.99px;font-size:19.5px;line-height:19.5px;font-weight:400;color:#231f20;white-space:pre;transform:scaleX(0.93);transform-origin:0 0;">nodules</div>
<div class="box" style="left:587.0px;top:433.5px;width:152.0px;height:64.5px"><div class="bt" style="top:12.0px;">ATMOSPHERIC</div><div class="bt" style="top:30.9px;">NITROGEN</div></div>
<div class="box" style="left:415.0px;top:511.0px;width:104.5px;height:43.799999999999955px"><div class="bt" style="top:9.0px;">Lightning</div></div>
<div class="box" style="left:224.5px;top:546.0px;width:134.0px;height:109.5px"><div class="bt" style="top:13.0px;">Nitrogen fixing</div><div class="bt" style="top:32.0px;">bacteria fix</div><div class="bt" style="top:51.0px;">atmospheric</div><div class="bt" style="top:70.0px;">nitrogen</div></div>
<div class="box" style="left:632.8px;top:534.8px;width:104.40000000000009px;height:69.5px"><div class="bt" style="top:4.2px;">Uptake</div><div class="bt" style="top:23.5px;">by</div><div class="bt" style="top:42.8px;">Plants</div></div>
<div class="box" style="left:771.1px;top:534.8px;width:104.19999999999993px;height:69.5px"><div class="bt" style="top:4.2px;">Animals</div><div class="bt" style="top:23.5px;">eat</div><div class="bt" style="top:42.8px;">plants</div></div>
<div class="box" style="left:763.5px;top:641.2px;width:119.89999999999998px;height:98.29999999999995px"><div class="bt" style="top:9.2px;">Nitrogenous</div><div class="bt" style="top:27.8px;">waste</div><div class="bt" style="top:47.3px;">from excretion</div><div class="bt" style="top:65.8px;">and death</div></div>
<div class="box" style="left:952.2px;top:548.2px;width:132.89999999999986px;height:109.19999999999993px"><div class="bt" style="top:3.2px;">Bacteria turn</div><div class="bt" style="top:21.8px;">compounds</div><div class="bt" style="top:41.1px;">of nitrogen</div><div class="bt" style="top:60.5px;">into gaseous</div><div class="bt" style="top:79.2px;">nitrogen</div></div>
<div class="box" style="left:309.0px;top:707.8px;width:133.39999999999998px;height:109.30000000000007px"><div class="bt" style="top:13.1px;text-align:left;padding-left:5px">Bacteria <span style="font-size:18.3px">turn</span></div><div class="bt" style="top:32.1px;">nitrogen into</div><div class="bt" style="top:51.0px;">nitrogenous</div><div class="bt" style="top:70.0px;">compounds</div></div>
<div class="box" style="left:609.7px;top:793.3px;width:150.79999999999995px;height:63.90000000000009px"><div class="bt" style="top:9.1px;">Compounds of</div><div class="bt" style="top:28.4px;">nitrogen in the soil</div></div>
<div class="t" style="left:583.00px;top:879.40px;font-size:21.5px;line-height:21.5px;font-weight:700;color:#231f20;white-space:pre;transform:scaleX(0.985);transform-origin:0 0;">Nitrogen cycle</div>
<div style="position:absolute;left:142px;top:922px;width:114px;height:36px;background:#ed1b55"></div>
<div class="t" style="left:150.50px;top:924.17px;font-size:28.5px;line-height:28.5px;font-weight:700;color:#fff;white-space:pre;transform:scaleX(0.815);transform-origin:0 0;">Oxygen</div>
<div class="t" style="left:143.00px;top:969.91px;font-size:25.5px;line-height:25.5px;font-weight:400;color:#231f20;width:1024.00px;text-align:justify;text-align-last:justify;">Oxygen is essential for all living things to survive. Our body requires oxygen to function</div>
<div class="t" style="left:143.00px;top:1003.91px;font-size:25.5px;line-height:25.5px;font-weight:400;color:#231f20;width:1024.00px;text-align:justify;text-align-last:justify;">properly. Aquatic animals use the oxygen dissolved in the water whereas animals and</div>
<div class="t" style="left:143.00px;top:1037.61px;font-size:25.5px;line-height:25.5px;font-weight:400;color:#231f20;width:1024.00px;text-align:justify;text-align-last:justify;">humans use the oxygen present in the air for their body functions. Humans and animals</div>
<div class="t" style="left:143.00px;top:1071.61px;font-size:25.5px;line-height:25.5px;font-weight:400;color:#231f20;white-space:pre;">breathe in oxygen and release water vapour and carbon dioxide.</div>
<div class="t" style="left:143.00px;top:1115.21px;font-size:25.5px;line-height:25.5px;font-weight:400;color:#231f20;width:1024.00px;text-align:justify;text-align-last:justify;">Oxygen plays a very important role in our daily life. It provides a blanket in the atmosphere</div>
<div class="t" style="left:143.00px;top:1149.21px;font-size:25.5px;line-height:25.5px;font-weight:400;color:#231f20;width:1024.00px;text-align:justify;text-align-last:justify;">which protects us from harmful ultraviolet radiations emitted by the sun. Oxygen is the</div>
<div class="t" style="left:143.00px;top:1182.91px;font-size:25.5px;line-height:25.5px;font-weight:400;color:#231f20;width:953.00px;text-align:justify;text-align-last:justify;">most vital component which is responsible for two of the most important processes.</div>
<div class="t" style="left:143.00px;top:1226.41px;font-size:25.5px;line-height:25.5px;font-weight:400;color:#231f20;white-space:pre;transform:scaleX(0.975);transform-origin:0 0;">(a) Respiration</div>
<div class="t" style="left:647.00px;top:1225.61px;font-size:25.5px;line-height:25.5px;font-weight:400;color:#231f20;white-space:pre;">(b) Combustion or burning</div>
<div class="t" style="left:143.00px;top:1270.81px;font-size:25.5px;line-height:25.5px;font-weight:700;color:#f6a33f;white-space:pre;">(a)</div>
<div class="t" style="left:197.00px;top:1270.81px;font-size:25.5px;line-height:25.5px;font-weight:400;color:#231f20;width:970.00px;text-align:justify;text-align-last:justify;"><span style="color:#f6a33f;font-weight:700;letter-spacing:-0.55px">Respiration :</span> The break-down of food using oxygen to release energy is known as</div>
<div class="t" style="left:197.00px;top:1304.81px;font-size:25.5px;line-height:25.5px;font-weight:400;color:#231f20;width:970.00px;text-align:justify;text-align-last:justify;">respiration. Oxygen remains dissolved in water which is useful to aquatic plants and</div>
<div class="t" style="left:197.00px;top:1338.21px;font-size:25.5px;line-height:25.5px;font-weight:400;color:#231f20;width:970.00px;text-align:justify;text-align-last:justify;">animals. Respiration is a chemical process that our body cells perform. During this</div>
<div class="t" style="left:197.00px;top:1406.41px;font-size:25.5px;line-height:25.5px;font-weight:400;color:#231f20;width:970.00px;text-align:justify;text-align-last:justify;">as a result of energy release in the form of ATP (adenosine triphosphate). All living</div>
<div class="t" style="left:197.00px;top:1372.41px;font-size:25.5px;line-height:25.5px;font-weight:400;color:#231f20;width:984.77px;text-align:justify;text-align-last:justify;transform:scaleX(0.985);transform-origin:0 0;">process, the food material (glucose) and oxygen convert into water and carbon dioxide,</div>
<div class="t" style="left:197.00px;top:1439.91px;font-size:25.5px;line-height:25.5px;font-weight:400;color:#231f20;white-space:pre;">organisms require energy in order to carry out day-to-day tasks.</div>
<div class="t" style="left:172.30px;top:1565.88px;font-size:22px;line-height:22px;font-weight:400;color:#fff;white-space:pre;transform:scaleX(0.92);transform-origin:0 0;">52</div>
<div class="t" style="left:235.00px;top:1567.66px;font-size:19.3px;line-height:19.3px;font-weight:400;color:#231f20;white-space:pre;transform:scaleX(1.09);transform-origin:0 0;">Chemistry-6</div>
</body></html>
